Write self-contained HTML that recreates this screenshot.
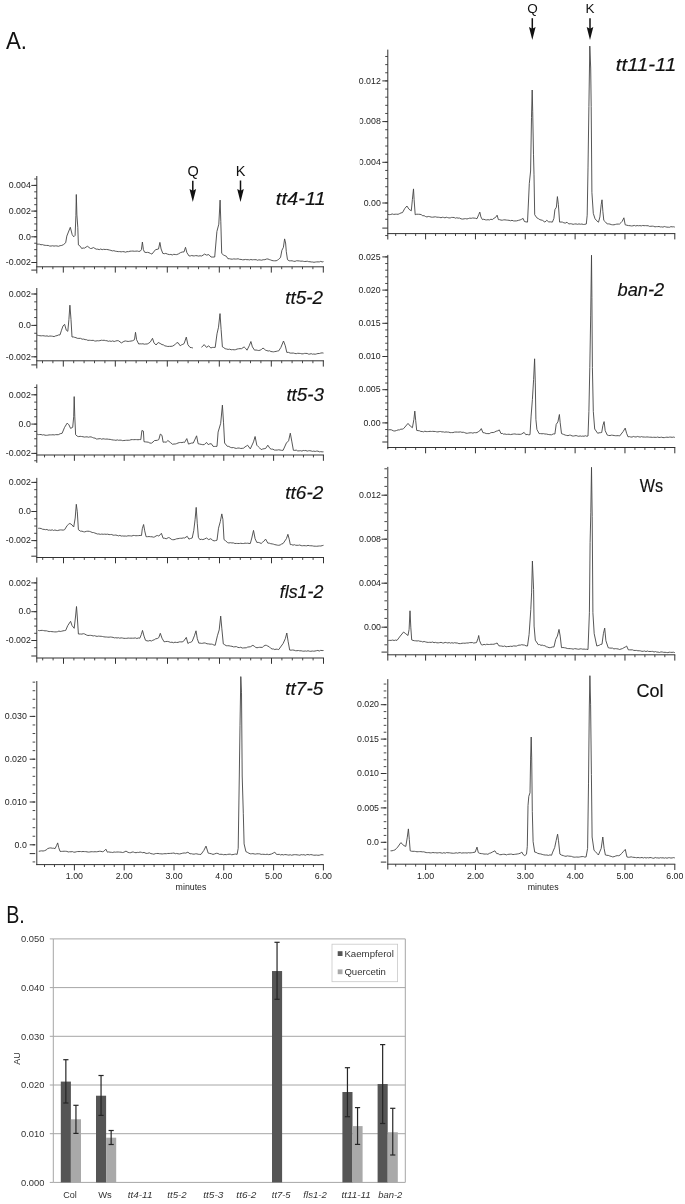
<!DOCTYPE html>
<html><head><meta charset="utf-8"><title>Figure</title>
<style>
html,body{margin:0;padding:0;background:#fff;}
body{width:685px;height:1204px;overflow:hidden;font-family:"Liberation Sans",sans-serif;}
svg{display:block;will-change:transform;}
</style></head><body>
<svg width="685" height="1204" viewBox="0 0 685 1204" font-family="Liberation Sans, sans-serif">
<rect width="685" height="1204" fill="#fff"/>
<text x="6" y="49.2" font-size="24" text-anchor="start" fill="#111" textLength="21" lengthAdjust="spacingAndGlyphs">A.</text>
<line x1="36.8" y1="176" x2="36.8" y2="273.4" stroke="#333" stroke-width="1.0"/>
<line x1="31.3" y1="270.1" x2="36.8" y2="270.1" stroke="#333" stroke-width="1.0"/>
<line x1="34.2" y1="185.4" x2="36.8" y2="185.4" stroke="#333" stroke-width="0.9"/>
<line x1="34.2" y1="178.97" x2="36.8" y2="178.97" stroke="#333" stroke-width="0.9"/>
<line x1="34.2" y1="191.83" x2="36.8" y2="191.83" stroke="#333" stroke-width="0.9"/>
<line x1="34.2" y1="198.25" x2="36.8" y2="198.25" stroke="#333" stroke-width="0.9"/>
<line x1="34.2" y1="204.68" x2="36.8" y2="204.68" stroke="#333" stroke-width="0.9"/>
<line x1="34.2" y1="211.1" x2="36.8" y2="211.1" stroke="#333" stroke-width="0.9"/>
<line x1="34.2" y1="217.53" x2="36.8" y2="217.53" stroke="#333" stroke-width="0.9"/>
<line x1="34.2" y1="223.95" x2="36.8" y2="223.95" stroke="#333" stroke-width="0.9"/>
<line x1="34.2" y1="230.38" x2="36.8" y2="230.38" stroke="#333" stroke-width="0.9"/>
<line x1="34.2" y1="236.8" x2="36.8" y2="236.8" stroke="#333" stroke-width="0.9"/>
<line x1="34.2" y1="243.22" x2="36.8" y2="243.22" stroke="#333" stroke-width="0.9"/>
<line x1="34.2" y1="249.65" x2="36.8" y2="249.65" stroke="#333" stroke-width="0.9"/>
<line x1="34.2" y1="256.07" x2="36.8" y2="256.07" stroke="#333" stroke-width="0.9"/>
<line x1="34.2" y1="262.5" x2="36.8" y2="262.5" stroke="#333" stroke-width="0.9"/>
<line x1="31.3" y1="185.4" x2="36.8" y2="185.4" stroke="#333" stroke-width="1.0"/>
<text x="30.8" y="188.1" font-size="8.8" text-anchor="end" fill="#222" >0.004</text>
<line x1="31.3" y1="211.1" x2="36.8" y2="211.1" stroke="#333" stroke-width="1.0"/>
<text x="30.8" y="213.8" font-size="8.8" text-anchor="end" fill="#222" >0.002</text>
<line x1="31.3" y1="236.8" x2="36.8" y2="236.8" stroke="#333" stroke-width="1.0"/>
<text x="30.8" y="239.5" font-size="8.8" text-anchor="end" fill="#222" >0.0</text>
<line x1="31.3" y1="262.5" x2="36.8" y2="262.5" stroke="#333" stroke-width="1.0"/>
<text x="30.8" y="265.2" font-size="8.8" text-anchor="end" fill="#222" >-0.002</text>
<line x1="36.3" y1="266.8" x2="324" y2="266.8" stroke="#333" stroke-width="1.0"/>
<line x1="63.3" y1="266.8" x2="63.3" y2="272.6" stroke="#333" stroke-width="1.0"/>
<line x1="52.9" y1="266.8" x2="52.9" y2="269.2" stroke="#333" stroke-width="0.9"/>
<line x1="42.5" y1="266.8" x2="42.5" y2="269.2" stroke="#333" stroke-width="0.9"/>
<line x1="73.7" y1="266.8" x2="73.7" y2="269.2" stroke="#333" stroke-width="0.9"/>
<line x1="84.1" y1="266.8" x2="84.1" y2="269.2" stroke="#333" stroke-width="0.9"/>
<line x1="94.5" y1="266.8" x2="94.5" y2="269.2" stroke="#333" stroke-width="0.9"/>
<line x1="104.9" y1="266.8" x2="104.9" y2="269.2" stroke="#333" stroke-width="0.9"/>
<line x1="115.3" y1="266.8" x2="115.3" y2="272.6" stroke="#333" stroke-width="1.0"/>
<line x1="125.7" y1="266.8" x2="125.7" y2="269.2" stroke="#333" stroke-width="0.9"/>
<line x1="136.1" y1="266.8" x2="136.1" y2="269.2" stroke="#333" stroke-width="0.9"/>
<line x1="146.5" y1="266.8" x2="146.5" y2="269.2" stroke="#333" stroke-width="0.9"/>
<line x1="156.9" y1="266.8" x2="156.9" y2="269.2" stroke="#333" stroke-width="0.9"/>
<line x1="167.3" y1="266.8" x2="167.3" y2="272.6" stroke="#333" stroke-width="1.0"/>
<line x1="177.7" y1="266.8" x2="177.7" y2="269.2" stroke="#333" stroke-width="0.9"/>
<line x1="188.1" y1="266.8" x2="188.1" y2="269.2" stroke="#333" stroke-width="0.9"/>
<line x1="198.5" y1="266.8" x2="198.5" y2="269.2" stroke="#333" stroke-width="0.9"/>
<line x1="208.9" y1="266.8" x2="208.9" y2="269.2" stroke="#333" stroke-width="0.9"/>
<line x1="219.3" y1="266.8" x2="219.3" y2="272.6" stroke="#333" stroke-width="1.0"/>
<line x1="229.7" y1="266.8" x2="229.7" y2="269.2" stroke="#333" stroke-width="0.9"/>
<line x1="240.1" y1="266.8" x2="240.1" y2="269.2" stroke="#333" stroke-width="0.9"/>
<line x1="250.5" y1="266.8" x2="250.5" y2="269.2" stroke="#333" stroke-width="0.9"/>
<line x1="260.9" y1="266.8" x2="260.9" y2="269.2" stroke="#333" stroke-width="0.9"/>
<line x1="271.3" y1="266.8" x2="271.3" y2="272.6" stroke="#333" stroke-width="1.0"/>
<line x1="281.7" y1="266.8" x2="281.7" y2="269.2" stroke="#333" stroke-width="0.9"/>
<line x1="292.1" y1="266.8" x2="292.1" y2="269.2" stroke="#333" stroke-width="0.9"/>
<line x1="302.5" y1="266.8" x2="302.5" y2="269.2" stroke="#333" stroke-width="0.9"/>
<line x1="312.9" y1="266.8" x2="312.9" y2="269.2" stroke="#333" stroke-width="0.9"/>
<line x1="323.3" y1="266.8" x2="323.3" y2="272.6" stroke="#333" stroke-width="1.0"/>
<line x1="36.8" y1="288" x2="36.8" y2="368.4" stroke="#333" stroke-width="1.0"/>
<line x1="31.3" y1="364.9" x2="36.8" y2="364.9" stroke="#333" stroke-width="1.0"/>
<line x1="34.2" y1="294" x2="36.8" y2="294" stroke="#333" stroke-width="0.9"/>
<line x1="34.2" y1="301.85" x2="36.8" y2="301.85" stroke="#333" stroke-width="0.9"/>
<line x1="34.2" y1="309.7" x2="36.8" y2="309.7" stroke="#333" stroke-width="0.9"/>
<line x1="34.2" y1="317.55" x2="36.8" y2="317.55" stroke="#333" stroke-width="0.9"/>
<line x1="34.2" y1="325.4" x2="36.8" y2="325.4" stroke="#333" stroke-width="0.9"/>
<line x1="34.2" y1="333.25" x2="36.8" y2="333.25" stroke="#333" stroke-width="0.9"/>
<line x1="34.2" y1="341.1" x2="36.8" y2="341.1" stroke="#333" stroke-width="0.9"/>
<line x1="34.2" y1="348.95" x2="36.8" y2="348.95" stroke="#333" stroke-width="0.9"/>
<line x1="34.2" y1="356.8" x2="36.8" y2="356.8" stroke="#333" stroke-width="0.9"/>
<line x1="31.3" y1="294" x2="36.8" y2="294" stroke="#333" stroke-width="1.0"/>
<text x="30.8" y="296.7" font-size="8.8" text-anchor="end" fill="#222" >0.002</text>
<line x1="31.3" y1="325.4" x2="36.8" y2="325.4" stroke="#333" stroke-width="1.0"/>
<text x="30.8" y="328.1" font-size="8.8" text-anchor="end" fill="#222" >0.0</text>
<line x1="31.3" y1="356.8" x2="36.8" y2="356.8" stroke="#333" stroke-width="1.0"/>
<text x="30.8" y="359.5" font-size="8.8" text-anchor="end" fill="#222" >-0.002</text>
<line x1="36.3" y1="360.8" x2="324" y2="360.8" stroke="#333" stroke-width="1.0"/>
<line x1="63.3" y1="360.8" x2="63.3" y2="366.6" stroke="#333" stroke-width="1.0"/>
<line x1="52.9" y1="360.8" x2="52.9" y2="363.2" stroke="#333" stroke-width="0.9"/>
<line x1="42.5" y1="360.8" x2="42.5" y2="363.2" stroke="#333" stroke-width="0.9"/>
<line x1="73.7" y1="360.8" x2="73.7" y2="363.2" stroke="#333" stroke-width="0.9"/>
<line x1="84.1" y1="360.8" x2="84.1" y2="363.2" stroke="#333" stroke-width="0.9"/>
<line x1="94.5" y1="360.8" x2="94.5" y2="363.2" stroke="#333" stroke-width="0.9"/>
<line x1="104.9" y1="360.8" x2="104.9" y2="363.2" stroke="#333" stroke-width="0.9"/>
<line x1="115.3" y1="360.8" x2="115.3" y2="366.6" stroke="#333" stroke-width="1.0"/>
<line x1="125.7" y1="360.8" x2="125.7" y2="363.2" stroke="#333" stroke-width="0.9"/>
<line x1="136.1" y1="360.8" x2="136.1" y2="363.2" stroke="#333" stroke-width="0.9"/>
<line x1="146.5" y1="360.8" x2="146.5" y2="363.2" stroke="#333" stroke-width="0.9"/>
<line x1="156.9" y1="360.8" x2="156.9" y2="363.2" stroke="#333" stroke-width="0.9"/>
<line x1="167.3" y1="360.8" x2="167.3" y2="366.6" stroke="#333" stroke-width="1.0"/>
<line x1="177.7" y1="360.8" x2="177.7" y2="363.2" stroke="#333" stroke-width="0.9"/>
<line x1="188.1" y1="360.8" x2="188.1" y2="363.2" stroke="#333" stroke-width="0.9"/>
<line x1="198.5" y1="360.8" x2="198.5" y2="363.2" stroke="#333" stroke-width="0.9"/>
<line x1="208.9" y1="360.8" x2="208.9" y2="363.2" stroke="#333" stroke-width="0.9"/>
<line x1="219.3" y1="360.8" x2="219.3" y2="366.6" stroke="#333" stroke-width="1.0"/>
<line x1="229.7" y1="360.8" x2="229.7" y2="363.2" stroke="#333" stroke-width="0.9"/>
<line x1="240.1" y1="360.8" x2="240.1" y2="363.2" stroke="#333" stroke-width="0.9"/>
<line x1="250.5" y1="360.8" x2="250.5" y2="363.2" stroke="#333" stroke-width="0.9"/>
<line x1="260.9" y1="360.8" x2="260.9" y2="363.2" stroke="#333" stroke-width="0.9"/>
<line x1="271.3" y1="360.8" x2="271.3" y2="366.6" stroke="#333" stroke-width="1.0"/>
<line x1="281.7" y1="360.8" x2="281.7" y2="363.2" stroke="#333" stroke-width="0.9"/>
<line x1="292.1" y1="360.8" x2="292.1" y2="363.2" stroke="#333" stroke-width="0.9"/>
<line x1="302.5" y1="360.8" x2="302.5" y2="363.2" stroke="#333" stroke-width="0.9"/>
<line x1="312.9" y1="360.8" x2="312.9" y2="363.2" stroke="#333" stroke-width="0.9"/>
<line x1="323.3" y1="360.8" x2="323.3" y2="366.6" stroke="#333" stroke-width="1.0"/>
<line x1="36.8" y1="384.4" x2="36.8" y2="462.8" stroke="#333" stroke-width="1.0"/>
<line x1="34.2" y1="394.8" x2="36.8" y2="394.8" stroke="#333" stroke-width="0.9"/>
<line x1="34.2" y1="387.48" x2="36.8" y2="387.48" stroke="#333" stroke-width="0.9"/>
<line x1="34.2" y1="402.12" x2="36.8" y2="402.12" stroke="#333" stroke-width="0.9"/>
<line x1="34.2" y1="409.45" x2="36.8" y2="409.45" stroke="#333" stroke-width="0.9"/>
<line x1="34.2" y1="416.78" x2="36.8" y2="416.78" stroke="#333" stroke-width="0.9"/>
<line x1="34.2" y1="424.1" x2="36.8" y2="424.1" stroke="#333" stroke-width="0.9"/>
<line x1="34.2" y1="431.43" x2="36.8" y2="431.43" stroke="#333" stroke-width="0.9"/>
<line x1="34.2" y1="438.75" x2="36.8" y2="438.75" stroke="#333" stroke-width="0.9"/>
<line x1="34.2" y1="446.07" x2="36.8" y2="446.07" stroke="#333" stroke-width="0.9"/>
<line x1="34.2" y1="453.4" x2="36.8" y2="453.4" stroke="#333" stroke-width="0.9"/>
<line x1="34.2" y1="460.73" x2="36.8" y2="460.73" stroke="#333" stroke-width="0.9"/>
<line x1="31.3" y1="394.8" x2="36.8" y2="394.8" stroke="#333" stroke-width="1.0"/>
<text x="30.8" y="397.5" font-size="8.8" text-anchor="end" fill="#222" >0.002</text>
<line x1="31.3" y1="424.1" x2="36.8" y2="424.1" stroke="#333" stroke-width="1.0"/>
<text x="30.8" y="426.8" font-size="8.8" text-anchor="end" fill="#222" >0.0</text>
<line x1="31.3" y1="453.4" x2="36.8" y2="453.4" stroke="#333" stroke-width="1.0"/>
<text x="30.8" y="456.1" font-size="8.8" text-anchor="end" fill="#222" >-0.002</text>
<line x1="36.3" y1="455" x2="324" y2="455" stroke="#333" stroke-width="1.0"/>
<line x1="74.4" y1="455" x2="74.4" y2="460.8" stroke="#333" stroke-width="1.0"/>
<line x1="64.44" y1="455" x2="64.44" y2="457.4" stroke="#333" stroke-width="0.9"/>
<line x1="54.48" y1="455" x2="54.48" y2="457.4" stroke="#333" stroke-width="0.9"/>
<line x1="44.52" y1="455" x2="44.52" y2="457.4" stroke="#333" stroke-width="0.9"/>
<line x1="84.36" y1="455" x2="84.36" y2="457.4" stroke="#333" stroke-width="0.9"/>
<line x1="94.32" y1="455" x2="94.32" y2="457.4" stroke="#333" stroke-width="0.9"/>
<line x1="104.28" y1="455" x2="104.28" y2="457.4" stroke="#333" stroke-width="0.9"/>
<line x1="114.24" y1="455" x2="114.24" y2="457.4" stroke="#333" stroke-width="0.9"/>
<line x1="124.2" y1="455" x2="124.2" y2="460.8" stroke="#333" stroke-width="1.0"/>
<line x1="134.16" y1="455" x2="134.16" y2="457.4" stroke="#333" stroke-width="0.9"/>
<line x1="144.12" y1="455" x2="144.12" y2="457.4" stroke="#333" stroke-width="0.9"/>
<line x1="154.08" y1="455" x2="154.08" y2="457.4" stroke="#333" stroke-width="0.9"/>
<line x1="164.04" y1="455" x2="164.04" y2="457.4" stroke="#333" stroke-width="0.9"/>
<line x1="174" y1="455" x2="174" y2="460.8" stroke="#333" stroke-width="1.0"/>
<line x1="183.96" y1="455" x2="183.96" y2="457.4" stroke="#333" stroke-width="0.9"/>
<line x1="193.92" y1="455" x2="193.92" y2="457.4" stroke="#333" stroke-width="0.9"/>
<line x1="203.88" y1="455" x2="203.88" y2="457.4" stroke="#333" stroke-width="0.9"/>
<line x1="213.84" y1="455" x2="213.84" y2="457.4" stroke="#333" stroke-width="0.9"/>
<line x1="223.8" y1="455" x2="223.8" y2="460.8" stroke="#333" stroke-width="1.0"/>
<line x1="233.76" y1="455" x2="233.76" y2="457.4" stroke="#333" stroke-width="0.9"/>
<line x1="243.72" y1="455" x2="243.72" y2="457.4" stroke="#333" stroke-width="0.9"/>
<line x1="253.68" y1="455" x2="253.68" y2="457.4" stroke="#333" stroke-width="0.9"/>
<line x1="263.64" y1="455" x2="263.64" y2="457.4" stroke="#333" stroke-width="0.9"/>
<line x1="273.6" y1="455" x2="273.6" y2="460.8" stroke="#333" stroke-width="1.0"/>
<line x1="283.56" y1="455" x2="283.56" y2="457.4" stroke="#333" stroke-width="0.9"/>
<line x1="293.52" y1="455" x2="293.52" y2="457.4" stroke="#333" stroke-width="0.9"/>
<line x1="303.48" y1="455" x2="303.48" y2="457.4" stroke="#333" stroke-width="0.9"/>
<line x1="313.44" y1="455" x2="313.44" y2="457.4" stroke="#333" stroke-width="0.9"/>
<line x1="323.4" y1="455" x2="323.4" y2="460.8" stroke="#333" stroke-width="1.0"/>
<line x1="36.8" y1="477.9" x2="36.8" y2="562.8" stroke="#333" stroke-width="1.0"/>
<line x1="31.3" y1="556.2" x2="36.8" y2="556.2" stroke="#333" stroke-width="1.0"/>
<line x1="34.2" y1="482.4" x2="36.8" y2="482.4" stroke="#333" stroke-width="0.9"/>
<line x1="34.2" y1="489.67" x2="36.8" y2="489.67" stroke="#333" stroke-width="0.9"/>
<line x1="34.2" y1="496.95" x2="36.8" y2="496.95" stroke="#333" stroke-width="0.9"/>
<line x1="34.2" y1="504.22" x2="36.8" y2="504.22" stroke="#333" stroke-width="0.9"/>
<line x1="34.2" y1="511.5" x2="36.8" y2="511.5" stroke="#333" stroke-width="0.9"/>
<line x1="34.2" y1="518.77" x2="36.8" y2="518.77" stroke="#333" stroke-width="0.9"/>
<line x1="34.2" y1="526.05" x2="36.8" y2="526.05" stroke="#333" stroke-width="0.9"/>
<line x1="34.2" y1="533.32" x2="36.8" y2="533.32" stroke="#333" stroke-width="0.9"/>
<line x1="34.2" y1="540.6" x2="36.8" y2="540.6" stroke="#333" stroke-width="0.9"/>
<line x1="34.2" y1="547.88" x2="36.8" y2="547.88" stroke="#333" stroke-width="0.9"/>
<line x1="31.3" y1="482.4" x2="36.8" y2="482.4" stroke="#333" stroke-width="1.0"/>
<text x="30.8" y="485.1" font-size="8.8" text-anchor="end" fill="#222" >0.002</text>
<line x1="31.3" y1="511.5" x2="36.8" y2="511.5" stroke="#333" stroke-width="1.0"/>
<text x="30.8" y="514.2" font-size="8.8" text-anchor="end" fill="#222" >0.0</text>
<line x1="31.3" y1="540.6" x2="36.8" y2="540.6" stroke="#333" stroke-width="1.0"/>
<text x="30.8" y="543.3" font-size="8.8" text-anchor="end" fill="#222" >-0.002</text>
<line x1="36.3" y1="557.5" x2="324" y2="557.5" stroke="#333" stroke-width="1.0"/>
<line x1="63.5" y1="557.5" x2="63.5" y2="563.3" stroke="#333" stroke-width="1.0"/>
<line x1="53.1" y1="557.5" x2="53.1" y2="559.9" stroke="#333" stroke-width="0.9"/>
<line x1="42.7" y1="557.5" x2="42.7" y2="559.9" stroke="#333" stroke-width="0.9"/>
<line x1="73.9" y1="557.5" x2="73.9" y2="559.9" stroke="#333" stroke-width="0.9"/>
<line x1="84.3" y1="557.5" x2="84.3" y2="559.9" stroke="#333" stroke-width="0.9"/>
<line x1="94.7" y1="557.5" x2="94.7" y2="559.9" stroke="#333" stroke-width="0.9"/>
<line x1="105.1" y1="557.5" x2="105.1" y2="559.9" stroke="#333" stroke-width="0.9"/>
<line x1="115.5" y1="557.5" x2="115.5" y2="563.3" stroke="#333" stroke-width="1.0"/>
<line x1="125.9" y1="557.5" x2="125.9" y2="559.9" stroke="#333" stroke-width="0.9"/>
<line x1="136.3" y1="557.5" x2="136.3" y2="559.9" stroke="#333" stroke-width="0.9"/>
<line x1="146.7" y1="557.5" x2="146.7" y2="559.9" stroke="#333" stroke-width="0.9"/>
<line x1="157.1" y1="557.5" x2="157.1" y2="559.9" stroke="#333" stroke-width="0.9"/>
<line x1="167.5" y1="557.5" x2="167.5" y2="563.3" stroke="#333" stroke-width="1.0"/>
<line x1="177.9" y1="557.5" x2="177.9" y2="559.9" stroke="#333" stroke-width="0.9"/>
<line x1="188.3" y1="557.5" x2="188.3" y2="559.9" stroke="#333" stroke-width="0.9"/>
<line x1="198.7" y1="557.5" x2="198.7" y2="559.9" stroke="#333" stroke-width="0.9"/>
<line x1="209.1" y1="557.5" x2="209.1" y2="559.9" stroke="#333" stroke-width="0.9"/>
<line x1="219.5" y1="557.5" x2="219.5" y2="563.3" stroke="#333" stroke-width="1.0"/>
<line x1="229.9" y1="557.5" x2="229.9" y2="559.9" stroke="#333" stroke-width="0.9"/>
<line x1="240.3" y1="557.5" x2="240.3" y2="559.9" stroke="#333" stroke-width="0.9"/>
<line x1="250.7" y1="557.5" x2="250.7" y2="559.9" stroke="#333" stroke-width="0.9"/>
<line x1="261.1" y1="557.5" x2="261.1" y2="559.9" stroke="#333" stroke-width="0.9"/>
<line x1="271.5" y1="557.5" x2="271.5" y2="563.3" stroke="#333" stroke-width="1.0"/>
<line x1="281.9" y1="557.5" x2="281.9" y2="559.9" stroke="#333" stroke-width="0.9"/>
<line x1="292.3" y1="557.5" x2="292.3" y2="559.9" stroke="#333" stroke-width="0.9"/>
<line x1="302.7" y1="557.5" x2="302.7" y2="559.9" stroke="#333" stroke-width="0.9"/>
<line x1="313.1" y1="557.5" x2="313.1" y2="559.9" stroke="#333" stroke-width="0.9"/>
<line x1="323.5" y1="557.5" x2="323.5" y2="563.3" stroke="#333" stroke-width="1.0"/>
<line x1="36.8" y1="577.4" x2="36.8" y2="662.5" stroke="#333" stroke-width="1.0"/>
<line x1="31.3" y1="656" x2="36.8" y2="656" stroke="#333" stroke-width="1.0"/>
<line x1="34.2" y1="582.9" x2="36.8" y2="582.9" stroke="#333" stroke-width="0.9"/>
<line x1="34.2" y1="590.1" x2="36.8" y2="590.1" stroke="#333" stroke-width="0.9"/>
<line x1="34.2" y1="597.3" x2="36.8" y2="597.3" stroke="#333" stroke-width="0.9"/>
<line x1="34.2" y1="604.5" x2="36.8" y2="604.5" stroke="#333" stroke-width="0.9"/>
<line x1="34.2" y1="611.7" x2="36.8" y2="611.7" stroke="#333" stroke-width="0.9"/>
<line x1="34.2" y1="618.9" x2="36.8" y2="618.9" stroke="#333" stroke-width="0.9"/>
<line x1="34.2" y1="626.1" x2="36.8" y2="626.1" stroke="#333" stroke-width="0.9"/>
<line x1="34.2" y1="633.3" x2="36.8" y2="633.3" stroke="#333" stroke-width="0.9"/>
<line x1="34.2" y1="640.5" x2="36.8" y2="640.5" stroke="#333" stroke-width="0.9"/>
<line x1="34.2" y1="647.7" x2="36.8" y2="647.7" stroke="#333" stroke-width="0.9"/>
<line x1="31.3" y1="582.9" x2="36.8" y2="582.9" stroke="#333" stroke-width="1.0"/>
<text x="30.8" y="585.6" font-size="8.8" text-anchor="end" fill="#222" >0.002</text>
<line x1="31.3" y1="611.7" x2="36.8" y2="611.7" stroke="#333" stroke-width="1.0"/>
<text x="30.8" y="614.4" font-size="8.8" text-anchor="end" fill="#222" >0.0</text>
<line x1="31.3" y1="640.5" x2="36.8" y2="640.5" stroke="#333" stroke-width="1.0"/>
<text x="30.8" y="643.2" font-size="8.8" text-anchor="end" fill="#222" >-0.002</text>
<line x1="36.3" y1="658" x2="324" y2="658" stroke="#333" stroke-width="1.0"/>
<line x1="63.5" y1="658" x2="63.5" y2="663.8" stroke="#333" stroke-width="1.0"/>
<line x1="53.1" y1="658" x2="53.1" y2="660.4" stroke="#333" stroke-width="0.9"/>
<line x1="42.7" y1="658" x2="42.7" y2="660.4" stroke="#333" stroke-width="0.9"/>
<line x1="73.9" y1="658" x2="73.9" y2="660.4" stroke="#333" stroke-width="0.9"/>
<line x1="84.3" y1="658" x2="84.3" y2="660.4" stroke="#333" stroke-width="0.9"/>
<line x1="94.7" y1="658" x2="94.7" y2="660.4" stroke="#333" stroke-width="0.9"/>
<line x1="105.1" y1="658" x2="105.1" y2="660.4" stroke="#333" stroke-width="0.9"/>
<line x1="115.5" y1="658" x2="115.5" y2="663.8" stroke="#333" stroke-width="1.0"/>
<line x1="125.9" y1="658" x2="125.9" y2="660.4" stroke="#333" stroke-width="0.9"/>
<line x1="136.3" y1="658" x2="136.3" y2="660.4" stroke="#333" stroke-width="0.9"/>
<line x1="146.7" y1="658" x2="146.7" y2="660.4" stroke="#333" stroke-width="0.9"/>
<line x1="157.1" y1="658" x2="157.1" y2="660.4" stroke="#333" stroke-width="0.9"/>
<line x1="167.5" y1="658" x2="167.5" y2="663.8" stroke="#333" stroke-width="1.0"/>
<line x1="177.9" y1="658" x2="177.9" y2="660.4" stroke="#333" stroke-width="0.9"/>
<line x1="188.3" y1="658" x2="188.3" y2="660.4" stroke="#333" stroke-width="0.9"/>
<line x1="198.7" y1="658" x2="198.7" y2="660.4" stroke="#333" stroke-width="0.9"/>
<line x1="209.1" y1="658" x2="209.1" y2="660.4" stroke="#333" stroke-width="0.9"/>
<line x1="219.5" y1="658" x2="219.5" y2="663.8" stroke="#333" stroke-width="1.0"/>
<line x1="229.9" y1="658" x2="229.9" y2="660.4" stroke="#333" stroke-width="0.9"/>
<line x1="240.3" y1="658" x2="240.3" y2="660.4" stroke="#333" stroke-width="0.9"/>
<line x1="250.7" y1="658" x2="250.7" y2="660.4" stroke="#333" stroke-width="0.9"/>
<line x1="261.1" y1="658" x2="261.1" y2="660.4" stroke="#333" stroke-width="0.9"/>
<line x1="271.5" y1="658" x2="271.5" y2="663.8" stroke="#333" stroke-width="1.0"/>
<line x1="281.9" y1="658" x2="281.9" y2="660.4" stroke="#333" stroke-width="0.9"/>
<line x1="292.3" y1="658" x2="292.3" y2="660.4" stroke="#333" stroke-width="0.9"/>
<line x1="302.7" y1="658" x2="302.7" y2="660.4" stroke="#333" stroke-width="0.9"/>
<line x1="313.1" y1="658" x2="313.1" y2="660.4" stroke="#333" stroke-width="0.9"/>
<line x1="323.5" y1="658" x2="323.5" y2="663.8" stroke="#333" stroke-width="1.0"/>
<line x1="36.8" y1="681" x2="36.8" y2="865.1" stroke="#333" stroke-width="1.0"/>
<line x1="29.7" y1="853.6" x2="35.2" y2="853.6" stroke="#333" stroke-width="1.0"/>
<line x1="32.6" y1="716.4" x2="35.2" y2="716.4" stroke="#333" stroke-width="0.9"/>
<line x1="32.6" y1="707.84" x2="35.2" y2="707.84" stroke="#333" stroke-width="0.9"/>
<line x1="32.6" y1="699.28" x2="35.2" y2="699.28" stroke="#333" stroke-width="0.9"/>
<line x1="32.6" y1="690.72" x2="35.2" y2="690.72" stroke="#333" stroke-width="0.9"/>
<line x1="32.6" y1="682.16" x2="35.2" y2="682.16" stroke="#333" stroke-width="0.9"/>
<line x1="32.6" y1="724.96" x2="35.2" y2="724.96" stroke="#333" stroke-width="0.9"/>
<line x1="32.6" y1="733.52" x2="35.2" y2="733.52" stroke="#333" stroke-width="0.9"/>
<line x1="32.6" y1="742.08" x2="35.2" y2="742.08" stroke="#333" stroke-width="0.9"/>
<line x1="32.6" y1="750.64" x2="35.2" y2="750.64" stroke="#333" stroke-width="0.9"/>
<line x1="32.6" y1="759.2" x2="35.2" y2="759.2" stroke="#333" stroke-width="0.9"/>
<line x1="32.6" y1="767.76" x2="35.2" y2="767.76" stroke="#333" stroke-width="0.9"/>
<line x1="32.6" y1="776.32" x2="35.2" y2="776.32" stroke="#333" stroke-width="0.9"/>
<line x1="32.6" y1="784.88" x2="35.2" y2="784.88" stroke="#333" stroke-width="0.9"/>
<line x1="32.6" y1="793.44" x2="35.2" y2="793.44" stroke="#333" stroke-width="0.9"/>
<line x1="32.6" y1="802" x2="35.2" y2="802" stroke="#333" stroke-width="0.9"/>
<line x1="32.6" y1="810.56" x2="35.2" y2="810.56" stroke="#333" stroke-width="0.9"/>
<line x1="32.6" y1="819.12" x2="35.2" y2="819.12" stroke="#333" stroke-width="0.9"/>
<line x1="32.6" y1="827.68" x2="35.2" y2="827.68" stroke="#333" stroke-width="0.9"/>
<line x1="32.6" y1="836.24" x2="35.2" y2="836.24" stroke="#333" stroke-width="0.9"/>
<line x1="32.6" y1="844.8" x2="35.2" y2="844.8" stroke="#333" stroke-width="0.9"/>
<line x1="32.6" y1="861.92" x2="35.2" y2="861.92" stroke="#333" stroke-width="0.9"/>
<line x1="29.7" y1="716.4" x2="35.2" y2="716.4" stroke="#333" stroke-width="1.0"/>
<text x="26.8" y="719.1" font-size="8.8" text-anchor="end" fill="#222" >0.030</text>
<line x1="29.7" y1="759.2" x2="35.2" y2="759.2" stroke="#333" stroke-width="1.0"/>
<text x="26.8" y="761.9" font-size="8.8" text-anchor="end" fill="#222" >0.020</text>
<line x1="29.7" y1="802" x2="35.2" y2="802" stroke="#333" stroke-width="1.0"/>
<text x="26.8" y="804.7" font-size="8.8" text-anchor="end" fill="#222" >0.010</text>
<line x1="29.7" y1="844.8" x2="35.2" y2="844.8" stroke="#333" stroke-width="1.0"/>
<text x="26.8" y="847.5" font-size="8.8" text-anchor="end" fill="#222" >0.0</text>
<line x1="36.3" y1="864.6" x2="324" y2="864.6" stroke="#333" stroke-width="1.0"/>
<line x1="74.4" y1="864.6" x2="74.4" y2="870.4" stroke="#333" stroke-width="1.0"/>
<line x1="64.44" y1="864.6" x2="64.44" y2="867" stroke="#333" stroke-width="0.9"/>
<line x1="54.48" y1="864.6" x2="54.48" y2="867" stroke="#333" stroke-width="0.9"/>
<line x1="44.52" y1="864.6" x2="44.52" y2="867" stroke="#333" stroke-width="0.9"/>
<line x1="84.36" y1="864.6" x2="84.36" y2="867" stroke="#333" stroke-width="0.9"/>
<line x1="94.32" y1="864.6" x2="94.32" y2="867" stroke="#333" stroke-width="0.9"/>
<line x1="104.28" y1="864.6" x2="104.28" y2="867" stroke="#333" stroke-width="0.9"/>
<line x1="114.24" y1="864.6" x2="114.24" y2="867" stroke="#333" stroke-width="0.9"/>
<line x1="124.2" y1="864.6" x2="124.2" y2="870.4" stroke="#333" stroke-width="1.0"/>
<line x1="134.16" y1="864.6" x2="134.16" y2="867" stroke="#333" stroke-width="0.9"/>
<line x1="144.12" y1="864.6" x2="144.12" y2="867" stroke="#333" stroke-width="0.9"/>
<line x1="154.08" y1="864.6" x2="154.08" y2="867" stroke="#333" stroke-width="0.9"/>
<line x1="164.04" y1="864.6" x2="164.04" y2="867" stroke="#333" stroke-width="0.9"/>
<line x1="174" y1="864.6" x2="174" y2="870.4" stroke="#333" stroke-width="1.0"/>
<line x1="183.96" y1="864.6" x2="183.96" y2="867" stroke="#333" stroke-width="0.9"/>
<line x1="193.92" y1="864.6" x2="193.92" y2="867" stroke="#333" stroke-width="0.9"/>
<line x1="203.88" y1="864.6" x2="203.88" y2="867" stroke="#333" stroke-width="0.9"/>
<line x1="213.84" y1="864.6" x2="213.84" y2="867" stroke="#333" stroke-width="0.9"/>
<line x1="223.8" y1="864.6" x2="223.8" y2="870.4" stroke="#333" stroke-width="1.0"/>
<line x1="233.76" y1="864.6" x2="233.76" y2="867" stroke="#333" stroke-width="0.9"/>
<line x1="243.72" y1="864.6" x2="243.72" y2="867" stroke="#333" stroke-width="0.9"/>
<line x1="253.68" y1="864.6" x2="253.68" y2="867" stroke="#333" stroke-width="0.9"/>
<line x1="263.64" y1="864.6" x2="263.64" y2="867" stroke="#333" stroke-width="0.9"/>
<line x1="273.6" y1="864.6" x2="273.6" y2="870.4" stroke="#333" stroke-width="1.0"/>
<line x1="283.56" y1="864.6" x2="283.56" y2="867" stroke="#333" stroke-width="0.9"/>
<line x1="293.52" y1="864.6" x2="293.52" y2="867" stroke="#333" stroke-width="0.9"/>
<line x1="303.48" y1="864.6" x2="303.48" y2="867" stroke="#333" stroke-width="0.9"/>
<line x1="313.44" y1="864.6" x2="313.44" y2="867" stroke="#333" stroke-width="0.9"/>
<line x1="323.4" y1="864.6" x2="323.4" y2="870.4" stroke="#333" stroke-width="1.0"/>
<text x="74.4" y="879" font-size="8.8" text-anchor="middle" fill="#222" >1.00</text>
<text x="124.2" y="879" font-size="8.8" text-anchor="middle" fill="#222" >2.00</text>
<text x="174" y="879" font-size="8.8" text-anchor="middle" fill="#222" >3.00</text>
<text x="223.8" y="879" font-size="8.8" text-anchor="middle" fill="#222" >4.00</text>
<text x="273.6" y="879" font-size="8.8" text-anchor="middle" fill="#222" >5.00</text>
<text x="323.4" y="879" font-size="8.8" text-anchor="middle" fill="#222" >6.00</text>
<text x="191" y="889.5" font-size="8.8" text-anchor="middle" fill="#222" >minutes</text>
<line x1="387.8" y1="49.6" x2="387.8" y2="239.5" stroke="#333" stroke-width="1.0"/>
<line x1="382.3" y1="228.1" x2="387.8" y2="228.1" stroke="#333" stroke-width="1.0"/>
<line x1="385.2" y1="80.9" x2="387.8" y2="80.9" stroke="#333" stroke-width="0.9"/>
<line x1="385.2" y1="72.76" x2="387.8" y2="72.76" stroke="#333" stroke-width="0.9"/>
<line x1="385.2" y1="64.62" x2="387.8" y2="64.62" stroke="#333" stroke-width="0.9"/>
<line x1="385.2" y1="56.48" x2="387.8" y2="56.48" stroke="#333" stroke-width="0.9"/>
<line x1="385.2" y1="89.04" x2="387.8" y2="89.04" stroke="#333" stroke-width="0.9"/>
<line x1="385.2" y1="97.18" x2="387.8" y2="97.18" stroke="#333" stroke-width="0.9"/>
<line x1="385.2" y1="105.32" x2="387.8" y2="105.32" stroke="#333" stroke-width="0.9"/>
<line x1="385.2" y1="113.46" x2="387.8" y2="113.46" stroke="#333" stroke-width="0.9"/>
<line x1="385.2" y1="121.6" x2="387.8" y2="121.6" stroke="#333" stroke-width="0.9"/>
<line x1="385.2" y1="129.74" x2="387.8" y2="129.74" stroke="#333" stroke-width="0.9"/>
<line x1="385.2" y1="137.88" x2="387.8" y2="137.88" stroke="#333" stroke-width="0.9"/>
<line x1="385.2" y1="146.02" x2="387.8" y2="146.02" stroke="#333" stroke-width="0.9"/>
<line x1="385.2" y1="154.16" x2="387.8" y2="154.16" stroke="#333" stroke-width="0.9"/>
<line x1="385.2" y1="162.3" x2="387.8" y2="162.3" stroke="#333" stroke-width="0.9"/>
<line x1="385.2" y1="170.44" x2="387.8" y2="170.44" stroke="#333" stroke-width="0.9"/>
<line x1="385.2" y1="178.58" x2="387.8" y2="178.58" stroke="#333" stroke-width="0.9"/>
<line x1="385.2" y1="186.72" x2="387.8" y2="186.72" stroke="#333" stroke-width="0.9"/>
<line x1="385.2" y1="194.86" x2="387.8" y2="194.86" stroke="#333" stroke-width="0.9"/>
<line x1="385.2" y1="203" x2="387.8" y2="203" stroke="#333" stroke-width="0.9"/>
<line x1="385.2" y1="211.14" x2="387.8" y2="211.14" stroke="#333" stroke-width="0.9"/>
<line x1="385.2" y1="219.28" x2="387.8" y2="219.28" stroke="#333" stroke-width="0.9"/>
<line x1="385.2" y1="235.56" x2="387.8" y2="235.56" stroke="#333" stroke-width="0.9"/>
<line x1="382.3" y1="80.9" x2="387.8" y2="80.9" stroke="#333" stroke-width="1.0"/>
<text x="380.8" y="83.6" font-size="8.8" text-anchor="end" fill="#222" >0.012</text>
<line x1="382.3" y1="121.6" x2="387.8" y2="121.6" stroke="#333" stroke-width="1.0"/>
<text x="380.8" y="124.3" font-size="8.8" text-anchor="end" fill="#222" >0.008</text>
<line x1="382.3" y1="162.3" x2="387.8" y2="162.3" stroke="#333" stroke-width="1.0"/>
<text x="380.8" y="165" font-size="8.8" text-anchor="end" fill="#222" >0.004</text>
<line x1="382.3" y1="203" x2="387.8" y2="203" stroke="#333" stroke-width="1.0"/>
<text x="380.8" y="205.7" font-size="8.8" text-anchor="end" fill="#222" >0.00</text>
<line x1="387.3" y1="233.6" x2="675.3" y2="233.6" stroke="#333" stroke-width="1.0"/>
<line x1="425.6" y1="233.6" x2="425.6" y2="239.4" stroke="#333" stroke-width="1.0"/>
<line x1="415.63" y1="233.6" x2="415.63" y2="236" stroke="#333" stroke-width="0.9"/>
<line x1="405.66" y1="233.6" x2="405.66" y2="236" stroke="#333" stroke-width="0.9"/>
<line x1="395.7" y1="233.6" x2="395.7" y2="236" stroke="#333" stroke-width="0.9"/>
<line x1="435.57" y1="233.6" x2="435.57" y2="236" stroke="#333" stroke-width="0.9"/>
<line x1="445.54" y1="233.6" x2="445.54" y2="236" stroke="#333" stroke-width="0.9"/>
<line x1="455.5" y1="233.6" x2="455.5" y2="236" stroke="#333" stroke-width="0.9"/>
<line x1="465.47" y1="233.6" x2="465.47" y2="236" stroke="#333" stroke-width="0.9"/>
<line x1="475.44" y1="233.6" x2="475.44" y2="239.4" stroke="#333" stroke-width="1.0"/>
<line x1="485.41" y1="233.6" x2="485.41" y2="236" stroke="#333" stroke-width="0.9"/>
<line x1="495.38" y1="233.6" x2="495.38" y2="236" stroke="#333" stroke-width="0.9"/>
<line x1="505.34" y1="233.6" x2="505.34" y2="236" stroke="#333" stroke-width="0.9"/>
<line x1="515.31" y1="233.6" x2="515.31" y2="236" stroke="#333" stroke-width="0.9"/>
<line x1="525.28" y1="233.6" x2="525.28" y2="239.4" stroke="#333" stroke-width="1.0"/>
<line x1="535.25" y1="233.6" x2="535.25" y2="236" stroke="#333" stroke-width="0.9"/>
<line x1="545.22" y1="233.6" x2="545.22" y2="236" stroke="#333" stroke-width="0.9"/>
<line x1="555.18" y1="233.6" x2="555.18" y2="236" stroke="#333" stroke-width="0.9"/>
<line x1="565.15" y1="233.6" x2="565.15" y2="236" stroke="#333" stroke-width="0.9"/>
<line x1="575.12" y1="233.6" x2="575.12" y2="239.4" stroke="#333" stroke-width="1.0"/>
<line x1="585.09" y1="233.6" x2="585.09" y2="236" stroke="#333" stroke-width="0.9"/>
<line x1="595.06" y1="233.6" x2="595.06" y2="236" stroke="#333" stroke-width="0.9"/>
<line x1="605.02" y1="233.6" x2="605.02" y2="236" stroke="#333" stroke-width="0.9"/>
<line x1="614.99" y1="233.6" x2="614.99" y2="236" stroke="#333" stroke-width="0.9"/>
<line x1="624.96" y1="233.6" x2="624.96" y2="239.4" stroke="#333" stroke-width="1.0"/>
<line x1="634.93" y1="233.6" x2="634.93" y2="236" stroke="#333" stroke-width="0.9"/>
<line x1="644.9" y1="233.6" x2="644.9" y2="236" stroke="#333" stroke-width="0.9"/>
<line x1="654.86" y1="233.6" x2="654.86" y2="236" stroke="#333" stroke-width="0.9"/>
<line x1="664.83" y1="233.6" x2="664.83" y2="236" stroke="#333" stroke-width="0.9"/>
<line x1="674.8" y1="233.6" x2="674.8" y2="239.4" stroke="#333" stroke-width="1.0"/>
<line x1="387.8" y1="254.9" x2="387.8" y2="449.2" stroke="#333" stroke-width="1.0"/>
<line x1="382.3" y1="442" x2="387.8" y2="442" stroke="#333" stroke-width="1.0"/>
<line x1="385.2" y1="256.9" x2="387.8" y2="256.9" stroke="#333" stroke-width="0.9"/>
<line x1="385.2" y1="263.54" x2="387.8" y2="263.54" stroke="#333" stroke-width="0.9"/>
<line x1="385.2" y1="270.18" x2="387.8" y2="270.18" stroke="#333" stroke-width="0.9"/>
<line x1="385.2" y1="276.82" x2="387.8" y2="276.82" stroke="#333" stroke-width="0.9"/>
<line x1="385.2" y1="283.46" x2="387.8" y2="283.46" stroke="#333" stroke-width="0.9"/>
<line x1="385.2" y1="290.1" x2="387.8" y2="290.1" stroke="#333" stroke-width="0.9"/>
<line x1="385.2" y1="296.74" x2="387.8" y2="296.74" stroke="#333" stroke-width="0.9"/>
<line x1="385.2" y1="303.38" x2="387.8" y2="303.38" stroke="#333" stroke-width="0.9"/>
<line x1="385.2" y1="310.02" x2="387.8" y2="310.02" stroke="#333" stroke-width="0.9"/>
<line x1="385.2" y1="316.66" x2="387.8" y2="316.66" stroke="#333" stroke-width="0.9"/>
<line x1="385.2" y1="323.3" x2="387.8" y2="323.3" stroke="#333" stroke-width="0.9"/>
<line x1="385.2" y1="329.94" x2="387.8" y2="329.94" stroke="#333" stroke-width="0.9"/>
<line x1="385.2" y1="336.58" x2="387.8" y2="336.58" stroke="#333" stroke-width="0.9"/>
<line x1="385.2" y1="343.22" x2="387.8" y2="343.22" stroke="#333" stroke-width="0.9"/>
<line x1="385.2" y1="349.86" x2="387.8" y2="349.86" stroke="#333" stroke-width="0.9"/>
<line x1="385.2" y1="356.5" x2="387.8" y2="356.5" stroke="#333" stroke-width="0.9"/>
<line x1="385.2" y1="363.14" x2="387.8" y2="363.14" stroke="#333" stroke-width="0.9"/>
<line x1="385.2" y1="369.78" x2="387.8" y2="369.78" stroke="#333" stroke-width="0.9"/>
<line x1="385.2" y1="376.42" x2="387.8" y2="376.42" stroke="#333" stroke-width="0.9"/>
<line x1="385.2" y1="383.06" x2="387.8" y2="383.06" stroke="#333" stroke-width="0.9"/>
<line x1="385.2" y1="389.7" x2="387.8" y2="389.7" stroke="#333" stroke-width="0.9"/>
<line x1="385.2" y1="396.34" x2="387.8" y2="396.34" stroke="#333" stroke-width="0.9"/>
<line x1="385.2" y1="402.98" x2="387.8" y2="402.98" stroke="#333" stroke-width="0.9"/>
<line x1="385.2" y1="409.62" x2="387.8" y2="409.62" stroke="#333" stroke-width="0.9"/>
<line x1="385.2" y1="416.26" x2="387.8" y2="416.26" stroke="#333" stroke-width="0.9"/>
<line x1="385.2" y1="422.9" x2="387.8" y2="422.9" stroke="#333" stroke-width="0.9"/>
<line x1="385.2" y1="429.54" x2="387.8" y2="429.54" stroke="#333" stroke-width="0.9"/>
<line x1="385.2" y1="436.18" x2="387.8" y2="436.18" stroke="#333" stroke-width="0.9"/>
<line x1="382.3" y1="256.9" x2="387.8" y2="256.9" stroke="#333" stroke-width="1.0"/>
<text x="380.6" y="259.6" font-size="8.8" text-anchor="end" fill="#222" >0.025</text>
<line x1="382.3" y1="290.1" x2="387.8" y2="290.1" stroke="#333" stroke-width="1.0"/>
<text x="380.6" y="292.8" font-size="8.8" text-anchor="end" fill="#222" >0.020</text>
<line x1="382.3" y1="323.3" x2="387.8" y2="323.3" stroke="#333" stroke-width="1.0"/>
<text x="380.6" y="326" font-size="8.8" text-anchor="end" fill="#222" >0.015</text>
<line x1="382.3" y1="356.5" x2="387.8" y2="356.5" stroke="#333" stroke-width="1.0"/>
<text x="380.6" y="359.2" font-size="8.8" text-anchor="end" fill="#222" >0.010</text>
<line x1="382.3" y1="389.7" x2="387.8" y2="389.7" stroke="#333" stroke-width="1.0"/>
<text x="380.6" y="392.4" font-size="8.8" text-anchor="end" fill="#222" >0.005</text>
<line x1="382.3" y1="422.9" x2="387.8" y2="422.9" stroke="#333" stroke-width="1.0"/>
<text x="380.6" y="425.6" font-size="8.8" text-anchor="end" fill="#222" >0.00</text>
<line x1="387.3" y1="447.5" x2="675.3" y2="447.5" stroke="#333" stroke-width="1.0"/>
<line x1="425.6" y1="447.5" x2="425.6" y2="453.3" stroke="#333" stroke-width="1.0"/>
<line x1="415.63" y1="447.5" x2="415.63" y2="449.9" stroke="#333" stroke-width="0.9"/>
<line x1="405.66" y1="447.5" x2="405.66" y2="449.9" stroke="#333" stroke-width="0.9"/>
<line x1="395.7" y1="447.5" x2="395.7" y2="449.9" stroke="#333" stroke-width="0.9"/>
<line x1="435.57" y1="447.5" x2="435.57" y2="449.9" stroke="#333" stroke-width="0.9"/>
<line x1="445.54" y1="447.5" x2="445.54" y2="449.9" stroke="#333" stroke-width="0.9"/>
<line x1="455.5" y1="447.5" x2="455.5" y2="449.9" stroke="#333" stroke-width="0.9"/>
<line x1="465.47" y1="447.5" x2="465.47" y2="449.9" stroke="#333" stroke-width="0.9"/>
<line x1="475.44" y1="447.5" x2="475.44" y2="453.3" stroke="#333" stroke-width="1.0"/>
<line x1="485.41" y1="447.5" x2="485.41" y2="449.9" stroke="#333" stroke-width="0.9"/>
<line x1="495.38" y1="447.5" x2="495.38" y2="449.9" stroke="#333" stroke-width="0.9"/>
<line x1="505.34" y1="447.5" x2="505.34" y2="449.9" stroke="#333" stroke-width="0.9"/>
<line x1="515.31" y1="447.5" x2="515.31" y2="449.9" stroke="#333" stroke-width="0.9"/>
<line x1="525.28" y1="447.5" x2="525.28" y2="453.3" stroke="#333" stroke-width="1.0"/>
<line x1="535.25" y1="447.5" x2="535.25" y2="449.9" stroke="#333" stroke-width="0.9"/>
<line x1="545.22" y1="447.5" x2="545.22" y2="449.9" stroke="#333" stroke-width="0.9"/>
<line x1="555.18" y1="447.5" x2="555.18" y2="449.9" stroke="#333" stroke-width="0.9"/>
<line x1="565.15" y1="447.5" x2="565.15" y2="449.9" stroke="#333" stroke-width="0.9"/>
<line x1="575.12" y1="447.5" x2="575.12" y2="453.3" stroke="#333" stroke-width="1.0"/>
<line x1="585.09" y1="447.5" x2="585.09" y2="449.9" stroke="#333" stroke-width="0.9"/>
<line x1="595.06" y1="447.5" x2="595.06" y2="449.9" stroke="#333" stroke-width="0.9"/>
<line x1="605.02" y1="447.5" x2="605.02" y2="449.9" stroke="#333" stroke-width="0.9"/>
<line x1="614.99" y1="447.5" x2="614.99" y2="449.9" stroke="#333" stroke-width="0.9"/>
<line x1="624.96" y1="447.5" x2="624.96" y2="453.3" stroke="#333" stroke-width="1.0"/>
<line x1="634.93" y1="447.5" x2="634.93" y2="449.9" stroke="#333" stroke-width="0.9"/>
<line x1="644.9" y1="447.5" x2="644.9" y2="449.9" stroke="#333" stroke-width="0.9"/>
<line x1="654.86" y1="447.5" x2="654.86" y2="449.9" stroke="#333" stroke-width="0.9"/>
<line x1="664.83" y1="447.5" x2="664.83" y2="449.9" stroke="#333" stroke-width="0.9"/>
<line x1="674.8" y1="447.5" x2="674.8" y2="453.3" stroke="#333" stroke-width="1.0"/>
<line x1="387.8" y1="466.9" x2="387.8" y2="660.6" stroke="#333" stroke-width="1.0"/>
<line x1="381.5" y1="652.1" x2="387" y2="652.1" stroke="#333" stroke-width="1.0"/>
<line x1="384.4" y1="495.2" x2="387" y2="495.2" stroke="#333" stroke-width="0.9"/>
<line x1="384.4" y1="486.4" x2="387" y2="486.4" stroke="#333" stroke-width="0.9"/>
<line x1="384.4" y1="477.6" x2="387" y2="477.6" stroke="#333" stroke-width="0.9"/>
<line x1="384.4" y1="468.8" x2="387" y2="468.8" stroke="#333" stroke-width="0.9"/>
<line x1="384.4" y1="504" x2="387" y2="504" stroke="#333" stroke-width="0.9"/>
<line x1="384.4" y1="512.8" x2="387" y2="512.8" stroke="#333" stroke-width="0.9"/>
<line x1="384.4" y1="521.6" x2="387" y2="521.6" stroke="#333" stroke-width="0.9"/>
<line x1="384.4" y1="530.4" x2="387" y2="530.4" stroke="#333" stroke-width="0.9"/>
<line x1="384.4" y1="539.2" x2="387" y2="539.2" stroke="#333" stroke-width="0.9"/>
<line x1="384.4" y1="548" x2="387" y2="548" stroke="#333" stroke-width="0.9"/>
<line x1="384.4" y1="556.8" x2="387" y2="556.8" stroke="#333" stroke-width="0.9"/>
<line x1="384.4" y1="565.6" x2="387" y2="565.6" stroke="#333" stroke-width="0.9"/>
<line x1="384.4" y1="574.4" x2="387" y2="574.4" stroke="#333" stroke-width="0.9"/>
<line x1="384.4" y1="583.2" x2="387" y2="583.2" stroke="#333" stroke-width="0.9"/>
<line x1="384.4" y1="592" x2="387" y2="592" stroke="#333" stroke-width="0.9"/>
<line x1="384.4" y1="600.8" x2="387" y2="600.8" stroke="#333" stroke-width="0.9"/>
<line x1="384.4" y1="609.6" x2="387" y2="609.6" stroke="#333" stroke-width="0.9"/>
<line x1="384.4" y1="618.4" x2="387" y2="618.4" stroke="#333" stroke-width="0.9"/>
<line x1="384.4" y1="627.2" x2="387" y2="627.2" stroke="#333" stroke-width="0.9"/>
<line x1="384.4" y1="636" x2="387" y2="636" stroke="#333" stroke-width="0.9"/>
<line x1="384.4" y1="644.8" x2="387" y2="644.8" stroke="#333" stroke-width="0.9"/>
<line x1="381.5" y1="495.2" x2="387" y2="495.2" stroke="#333" stroke-width="1.0"/>
<text x="381" y="497.9" font-size="8.8" text-anchor="end" fill="#222" >0.012</text>
<line x1="381.5" y1="539.2" x2="387" y2="539.2" stroke="#333" stroke-width="1.0"/>
<text x="381" y="541.9" font-size="8.8" text-anchor="end" fill="#222" >0.008</text>
<line x1="381.5" y1="583.2" x2="387" y2="583.2" stroke="#333" stroke-width="1.0"/>
<text x="381" y="585.9" font-size="8.8" text-anchor="end" fill="#222" >0.004</text>
<line x1="381.5" y1="627.2" x2="387" y2="627.2" stroke="#333" stroke-width="1.0"/>
<text x="381" y="629.9" font-size="8.8" text-anchor="end" fill="#222" >0.00</text>
<line x1="387.3" y1="654.8" x2="675.3" y2="654.8" stroke="#333" stroke-width="1.0"/>
<line x1="425.6" y1="654.8" x2="425.6" y2="660.6" stroke="#333" stroke-width="1.0"/>
<line x1="415.63" y1="654.8" x2="415.63" y2="657.2" stroke="#333" stroke-width="0.9"/>
<line x1="405.66" y1="654.8" x2="405.66" y2="657.2" stroke="#333" stroke-width="0.9"/>
<line x1="395.7" y1="654.8" x2="395.7" y2="657.2" stroke="#333" stroke-width="0.9"/>
<line x1="435.57" y1="654.8" x2="435.57" y2="657.2" stroke="#333" stroke-width="0.9"/>
<line x1="445.54" y1="654.8" x2="445.54" y2="657.2" stroke="#333" stroke-width="0.9"/>
<line x1="455.5" y1="654.8" x2="455.5" y2="657.2" stroke="#333" stroke-width="0.9"/>
<line x1="465.47" y1="654.8" x2="465.47" y2="657.2" stroke="#333" stroke-width="0.9"/>
<line x1="475.44" y1="654.8" x2="475.44" y2="660.6" stroke="#333" stroke-width="1.0"/>
<line x1="485.41" y1="654.8" x2="485.41" y2="657.2" stroke="#333" stroke-width="0.9"/>
<line x1="495.38" y1="654.8" x2="495.38" y2="657.2" stroke="#333" stroke-width="0.9"/>
<line x1="505.34" y1="654.8" x2="505.34" y2="657.2" stroke="#333" stroke-width="0.9"/>
<line x1="515.31" y1="654.8" x2="515.31" y2="657.2" stroke="#333" stroke-width="0.9"/>
<line x1="525.28" y1="654.8" x2="525.28" y2="660.6" stroke="#333" stroke-width="1.0"/>
<line x1="535.25" y1="654.8" x2="535.25" y2="657.2" stroke="#333" stroke-width="0.9"/>
<line x1="545.22" y1="654.8" x2="545.22" y2="657.2" stroke="#333" stroke-width="0.9"/>
<line x1="555.18" y1="654.8" x2="555.18" y2="657.2" stroke="#333" stroke-width="0.9"/>
<line x1="565.15" y1="654.8" x2="565.15" y2="657.2" stroke="#333" stroke-width="0.9"/>
<line x1="575.12" y1="654.8" x2="575.12" y2="660.6" stroke="#333" stroke-width="1.0"/>
<line x1="585.09" y1="654.8" x2="585.09" y2="657.2" stroke="#333" stroke-width="0.9"/>
<line x1="595.06" y1="654.8" x2="595.06" y2="657.2" stroke="#333" stroke-width="0.9"/>
<line x1="605.02" y1="654.8" x2="605.02" y2="657.2" stroke="#333" stroke-width="0.9"/>
<line x1="614.99" y1="654.8" x2="614.99" y2="657.2" stroke="#333" stroke-width="0.9"/>
<line x1="624.96" y1="654.8" x2="624.96" y2="660.6" stroke="#333" stroke-width="1.0"/>
<line x1="634.93" y1="654.8" x2="634.93" y2="657.2" stroke="#333" stroke-width="0.9"/>
<line x1="644.9" y1="654.8" x2="644.9" y2="657.2" stroke="#333" stroke-width="0.9"/>
<line x1="654.86" y1="654.8" x2="654.86" y2="657.2" stroke="#333" stroke-width="0.9"/>
<line x1="664.83" y1="654.8" x2="664.83" y2="657.2" stroke="#333" stroke-width="0.9"/>
<line x1="674.8" y1="654.8" x2="674.8" y2="660.6" stroke="#333" stroke-width="1.0"/>
<line x1="387.8" y1="679.1" x2="387.8" y2="869.5" stroke="#333" stroke-width="1.0"/>
<line x1="380.8" y1="862.1" x2="386.3" y2="862.1" stroke="#333" stroke-width="1.0"/>
<line x1="383.7" y1="704.7" x2="386.3" y2="704.7" stroke="#333" stroke-width="0.9"/>
<line x1="383.7" y1="697.82" x2="386.3" y2="697.82" stroke="#333" stroke-width="0.9"/>
<line x1="383.7" y1="690.94" x2="386.3" y2="690.94" stroke="#333" stroke-width="0.9"/>
<line x1="383.7" y1="684.06" x2="386.3" y2="684.06" stroke="#333" stroke-width="0.9"/>
<line x1="383.7" y1="711.58" x2="386.3" y2="711.58" stroke="#333" stroke-width="0.9"/>
<line x1="383.7" y1="718.46" x2="386.3" y2="718.46" stroke="#333" stroke-width="0.9"/>
<line x1="383.7" y1="725.34" x2="386.3" y2="725.34" stroke="#333" stroke-width="0.9"/>
<line x1="383.7" y1="732.22" x2="386.3" y2="732.22" stroke="#333" stroke-width="0.9"/>
<line x1="383.7" y1="739.1" x2="386.3" y2="739.1" stroke="#333" stroke-width="0.9"/>
<line x1="383.7" y1="745.98" x2="386.3" y2="745.98" stroke="#333" stroke-width="0.9"/>
<line x1="383.7" y1="752.86" x2="386.3" y2="752.86" stroke="#333" stroke-width="0.9"/>
<line x1="383.7" y1="759.74" x2="386.3" y2="759.74" stroke="#333" stroke-width="0.9"/>
<line x1="383.7" y1="766.62" x2="386.3" y2="766.62" stroke="#333" stroke-width="0.9"/>
<line x1="383.7" y1="773.5" x2="386.3" y2="773.5" stroke="#333" stroke-width="0.9"/>
<line x1="383.7" y1="780.38" x2="386.3" y2="780.38" stroke="#333" stroke-width="0.9"/>
<line x1="383.7" y1="787.26" x2="386.3" y2="787.26" stroke="#333" stroke-width="0.9"/>
<line x1="383.7" y1="794.14" x2="386.3" y2="794.14" stroke="#333" stroke-width="0.9"/>
<line x1="383.7" y1="801.02" x2="386.3" y2="801.02" stroke="#333" stroke-width="0.9"/>
<line x1="383.7" y1="807.9" x2="386.3" y2="807.9" stroke="#333" stroke-width="0.9"/>
<line x1="383.7" y1="814.78" x2="386.3" y2="814.78" stroke="#333" stroke-width="0.9"/>
<line x1="383.7" y1="821.66" x2="386.3" y2="821.66" stroke="#333" stroke-width="0.9"/>
<line x1="383.7" y1="828.54" x2="386.3" y2="828.54" stroke="#333" stroke-width="0.9"/>
<line x1="383.7" y1="835.42" x2="386.3" y2="835.42" stroke="#333" stroke-width="0.9"/>
<line x1="383.7" y1="842.3" x2="386.3" y2="842.3" stroke="#333" stroke-width="0.9"/>
<line x1="383.7" y1="849.18" x2="386.3" y2="849.18" stroke="#333" stroke-width="0.9"/>
<line x1="383.7" y1="856.06" x2="386.3" y2="856.06" stroke="#333" stroke-width="0.9"/>
<line x1="380.8" y1="704.7" x2="386.3" y2="704.7" stroke="#333" stroke-width="1.0"/>
<text x="379" y="707.4" font-size="8.8" text-anchor="end" fill="#222" >0.020</text>
<line x1="380.8" y1="739.1" x2="386.3" y2="739.1" stroke="#333" stroke-width="1.0"/>
<text x="379" y="741.8" font-size="8.8" text-anchor="end" fill="#222" >0.015</text>
<line x1="380.8" y1="773.5" x2="386.3" y2="773.5" stroke="#333" stroke-width="1.0"/>
<text x="379" y="776.2" font-size="8.8" text-anchor="end" fill="#222" >0.010</text>
<line x1="380.8" y1="807.9" x2="386.3" y2="807.9" stroke="#333" stroke-width="1.0"/>
<text x="379" y="810.6" font-size="8.8" text-anchor="end" fill="#222" >0.005</text>
<line x1="380.8" y1="842.3" x2="386.3" y2="842.3" stroke="#333" stroke-width="1.0"/>
<text x="379" y="845" font-size="8.8" text-anchor="end" fill="#222" >0.0</text>
<line x1="387.3" y1="864.2" x2="675.3" y2="864.2" stroke="#333" stroke-width="1.0"/>
<line x1="425.6" y1="864.2" x2="425.6" y2="870" stroke="#333" stroke-width="1.0"/>
<line x1="415.63" y1="864.2" x2="415.63" y2="866.6" stroke="#333" stroke-width="0.9"/>
<line x1="405.66" y1="864.2" x2="405.66" y2="866.6" stroke="#333" stroke-width="0.9"/>
<line x1="395.7" y1="864.2" x2="395.7" y2="866.6" stroke="#333" stroke-width="0.9"/>
<line x1="435.57" y1="864.2" x2="435.57" y2="866.6" stroke="#333" stroke-width="0.9"/>
<line x1="445.54" y1="864.2" x2="445.54" y2="866.6" stroke="#333" stroke-width="0.9"/>
<line x1="455.5" y1="864.2" x2="455.5" y2="866.6" stroke="#333" stroke-width="0.9"/>
<line x1="465.47" y1="864.2" x2="465.47" y2="866.6" stroke="#333" stroke-width="0.9"/>
<line x1="475.44" y1="864.2" x2="475.44" y2="870" stroke="#333" stroke-width="1.0"/>
<line x1="485.41" y1="864.2" x2="485.41" y2="866.6" stroke="#333" stroke-width="0.9"/>
<line x1="495.38" y1="864.2" x2="495.38" y2="866.6" stroke="#333" stroke-width="0.9"/>
<line x1="505.34" y1="864.2" x2="505.34" y2="866.6" stroke="#333" stroke-width="0.9"/>
<line x1="515.31" y1="864.2" x2="515.31" y2="866.6" stroke="#333" stroke-width="0.9"/>
<line x1="525.28" y1="864.2" x2="525.28" y2="870" stroke="#333" stroke-width="1.0"/>
<line x1="535.25" y1="864.2" x2="535.25" y2="866.6" stroke="#333" stroke-width="0.9"/>
<line x1="545.22" y1="864.2" x2="545.22" y2="866.6" stroke="#333" stroke-width="0.9"/>
<line x1="555.18" y1="864.2" x2="555.18" y2="866.6" stroke="#333" stroke-width="0.9"/>
<line x1="565.15" y1="864.2" x2="565.15" y2="866.6" stroke="#333" stroke-width="0.9"/>
<line x1="575.12" y1="864.2" x2="575.12" y2="870" stroke="#333" stroke-width="1.0"/>
<line x1="585.09" y1="864.2" x2="585.09" y2="866.6" stroke="#333" stroke-width="0.9"/>
<line x1="595.06" y1="864.2" x2="595.06" y2="866.6" stroke="#333" stroke-width="0.9"/>
<line x1="605.02" y1="864.2" x2="605.02" y2="866.6" stroke="#333" stroke-width="0.9"/>
<line x1="614.99" y1="864.2" x2="614.99" y2="866.6" stroke="#333" stroke-width="0.9"/>
<line x1="624.96" y1="864.2" x2="624.96" y2="870" stroke="#333" stroke-width="1.0"/>
<line x1="634.93" y1="864.2" x2="634.93" y2="866.6" stroke="#333" stroke-width="0.9"/>
<line x1="644.9" y1="864.2" x2="644.9" y2="866.6" stroke="#333" stroke-width="0.9"/>
<line x1="654.86" y1="864.2" x2="654.86" y2="866.6" stroke="#333" stroke-width="0.9"/>
<line x1="664.83" y1="864.2" x2="664.83" y2="866.6" stroke="#333" stroke-width="0.9"/>
<line x1="674.8" y1="864.2" x2="674.8" y2="870" stroke="#333" stroke-width="1.0"/>
<text x="425.6" y="878.5" font-size="8.8" text-anchor="middle" fill="#222" >1.00</text>
<text x="475.44" y="878.5" font-size="8.8" text-anchor="middle" fill="#222" >2.00</text>
<text x="525.28" y="878.5" font-size="8.8" text-anchor="middle" fill="#222" >3.00</text>
<text x="575.12" y="878.5" font-size="8.8" text-anchor="middle" fill="#222" >4.00</text>
<text x="624.96" y="878.5" font-size="8.8" text-anchor="middle" fill="#222" >5.00</text>
<text x="674.8" y="878.5" font-size="8.8" text-anchor="middle" fill="#222" >6.00</text>
<text x="543.2" y="889.8" font-size="8.8" text-anchor="middle" fill="#222" >minutes</text>
<rect x="354" y="116" width="5.8" height="11" fill="#fff"/>
<rect x="354" y="157" width="5.8" height="11" fill="#fff"/>
<polyline points="36.8,244.1 38.2,244.17 39.6,244.23 41,244.81 42.4,244.58 43.8,245.1 45.25,245.35 46.7,245.45 48.15,245.44 49.6,246 51.07,246.06 52.53,245.75 54,246.1 55.47,245.87 56.93,245.94 58.4,246.3 60.1,245.68 61.8,245.42 63.5,244.6 65.7,242.7 66.8,236.1 70.3,227.3 72.2,234.6 73.7,236.8 75.1,235.4 75.9,215.7 76.3,194.5 76.9,214.9 77.8,227.3 78.4,244.9 80.3,246.3 81.7,248.5 83.15,248.01 84.6,248.1 86.1,246.99 87.6,246.3 89.05,247.5 90.5,248.5 91.95,248.34 93.4,247.5 94.85,248.41 96.3,249.2 97.77,249.17 99.23,249.66 100.7,249.01 102.17,249.67 103.63,249.29 105.1,249.5 106.55,249.45 108,249.66 109.45,250.03 110.9,250.4 112.38,250.89 113.85,250.66 115.33,251.21 116.8,251.4 118.25,251.64 119.7,251.57 121.15,251.84 122.6,251.6 124.05,251.73 125.5,252.2 127,251.64 128.5,251.67 130,251.2 131.46,251.14 132.91,251.06 134.37,251.27 135.83,251.16 137.29,251.05 138.74,251.42 140.2,251.2 141.4,249.7 142.4,242 143.4,249.7 144.6,252.2 146.07,252.52 147.53,252.34 149,252.7 150.45,253.46 151.9,254.1 155.5,249.7 157,249.37 158.5,249 159.9,242.4 161.1,249 162.8,253.4 164.3,253.69 165.8,253.4 167.6,254.17 169.4,254.6 170.86,254.44 172.32,254.96 173.78,254.31 175.24,254.54 176.7,254.6 178.55,253.85 180.4,252.7 182.2,252.04 184,251.9 185.5,247.3 186.9,252.7 189.1,256 190.42,255.91 191.74,255.49 193.06,255.89 194.38,255.88 195.7,255.6 197.15,255.76 198.6,256.09 200.05,255.76 201.5,256 203,255.2 204.5,254.1 206.6,255.1 208.8,254.6 211,257 212.85,257.07 214.7,257 216.9,231.5 218.8,224.2 220.1,200.1 220.8,221.3 221.7,253.4 223.4,254.9 224.9,255.66 226.4,256.3 227.9,258.7 229.37,258.72 230.83,259.06 232.3,259.19 233.77,258.88 235.23,259.07 236.7,259 238.16,258.77 239.61,259.35 241.07,259.41 242.53,259.77 243.99,259.74 245.44,259.44 246.9,259.7 248.23,259.66 249.55,259.92 250.88,259.47 252.21,259.85 253.54,259.67 254.86,259.68 256.19,259.68 257.52,260.27 258.85,259.83 260.17,259.96 261.5,260.2 263.2,259.72 264.9,259.68 266.6,259 267.93,258.98 269.27,259.56 270.6,259.94 271.93,260.49 273.27,260.74 274.6,260.8 276.1,260.78 277.6,260.2 279.05,258.73 280.5,257.6 281.9,250.3 283.4,247.3 284.6,238.9 285.6,243 286.3,251.7 287.5,259.7 289.2,260.8 290.66,260.79 292.12,260.79 293.59,261.24 295.05,261.35 296.51,260.78 297.97,260.85 299.44,260.95 300.9,261.2 302.2,261.09 303.5,261.37 304.8,261.53 306.1,261.38 307.4,261.27 308.7,261.67 310,261.72 311.3,261.96 312.6,262 313.96,262.29 315.33,262.04 316.69,261.86 318.05,261.89 319.41,261.88 320.77,261.36 322.14,261.95 323.5,261.6" fill="none" stroke="#444" stroke-width="0.9" stroke-linejoin="round"/>
<polyline points="37.1,335.1 38.52,335.48 39.93,335.72 41.35,335.83 42.77,335.68 44.18,335.86 45.6,336.1 47.02,335.88 48.43,336.37 49.85,336.02 51.27,336.1 52.68,336.3 54.1,336.6 55.58,335.92 57.05,335.63 58.52,334.98 60,334.9 61.5,330.2 63,326 64.6,324.3 66.3,330.2 67.8,331.3 68.9,319.6 69.9,305.2 71,319.6 72,337 73.33,336.95 74.65,337.38 75.97,337.67 77.3,338.3 78.9,338.4 80.5,338.34 82.1,339.18 83.7,339.1 85.1,339.62 86.5,339.7 87.9,340.4 89.23,340.26 90.55,340.38 91.88,340.45 93.2,340.31 94.53,340.92 95.85,341.07 97.17,340.72 98.5,340.8 99.9,340.65 101.3,340.22 102.7,340.4 104.12,340.26 105.53,340.61 106.95,340.72 108.37,341.32 109.78,340.98 111.2,341.4 112.68,340.92 114.16,341.5 115.64,341.06 117.12,340.65 118.6,340.8 120,341.88 121.4,342.9 123.9,341.4 125.32,340.94 126.73,341.22 128.15,341.46 129.57,341.28 130.98,341.05 132.4,340.8 134.5,339.7 135.5,332.3 136.6,339.7 138.7,344 140.12,343.82 141.53,343.9 142.95,343.75 144.37,344.21 145.78,344.02 147.2,344 148.8,343.16 150.4,341.9 152.5,338.3 154,342.9 156.1,345 158.2,342.5 160.1,343.42 162,344.6 163.4,344.89 164.8,345.84 166.2,346.1 167.8,346.47 169.4,346.37 171,346.33 172.6,346.1 174,345.28 175.4,344.15 176.8,342.9 178,342.6 180.2,345.8 181.5,344.86 182.8,344.35 184.1,343.6 186.3,337.1 187.9,344.7 190,347.4 191.45,347.59 192.9,348" fill="none" stroke="#444" stroke-width="0.9" stroke-linejoin="round"/>
<polyline points="201.6,347.4 202.95,345.69 204.3,344.7 206.5,347.4 208.7,345.8 210.8,348 212.27,347.44 213.73,347.43 215.2,347.4 217,333.8 218.5,327.2 220,313.6 221.1,329.4 222.4,346.9 223.75,347.62 225.1,348.7 226.62,349.03 228.14,349.41 229.66,349.2 231.18,349.75 232.7,349.6 234.17,349.82 235.63,349.65 237.1,349.05 238.57,348.79 240.03,348.64 241.5,348.7 244.1,346.9 245.55,348.32 247,350.2 249.2,345.8 250.9,341.5 252.4,346.9 254.6,350.2 255.97,349.98 257.35,350.29 258.73,350.5 260.1,350.2 261.55,349.36 263,348 264.3,349.08 265.6,350.2 266.92,350.62 268.24,351.03 269.56,350.78 270.88,351.52 272.2,351.7 273.5,351.85 274.8,351.59 276.1,351.41 277.4,351.04 278.7,350.9 280.9,347.4 283.5,341 285.3,345.8 286.8,352.4 288.5,352.39 290.2,353.09 291.9,353.1 293.35,353.04 294.8,353.46 296.25,353.66 297.7,353.29 299.15,353.36 300.6,353.5 301.92,353.89 303.24,353.77 304.56,353.4 305.88,353.42 307.2,353.48 308.52,354.11 309.84,354.08 311.16,353.63 312.48,354.2 313.8,354 315.19,354.24 316.57,353.86 317.96,353.5 319.34,353.52 320.73,353.08 322.11,352.86 323.5,353.1" fill="none" stroke="#444" stroke-width="0.9" stroke-linejoin="round"/>
<polyline points="37.1,434.1 38.43,434.6 39.75,434.49 41.08,434.53 42.4,434.98 43.73,434.74 45.05,435.21 46.38,435.31 47.7,435.2 49.03,434.92 50.35,434.89 51.67,434.86 53,434.75 54.33,434.95 55.65,434.64 56.97,434.7 58.3,434.7 60.2,433.72 62.1,433.3 64.6,427.3 67.2,423.1 68.9,424.8 70.6,428.4 72.7,427.3 73.7,416.8 74.2,396.6 74.8,416.8 75.6,434.7 77.3,436.2 78.72,436.63 80.13,436.32 81.55,436.52 82.97,436.73 84.38,437.09 85.8,436.9 87.12,436.84 88.45,437.22 89.77,436.9 91.1,436.9 92.42,437.45 93.75,437.97 95.08,438.11 96.4,439 97.73,438.95 99.05,438.76 100.38,438.62 101.7,439.23 103.03,438.75 104.35,438.98 105.67,439.17 107,439 108.58,439.29 110.15,439.37 111.72,439.76 113.3,440 114.62,440.1 115.95,440.34 117.28,439.89 118.6,440.3 119.92,440.12 121.25,440.21 122.58,440.64 123.9,440.5 125.32,440.36 126.73,440.25 128.15,440.25 129.57,440.21 130.98,439.71 132.4,439.6 133.8,439.69 135.2,439.6 136.6,439.61 138,439.75 139.4,439.56 140.8,439.6 141.9,430.5 143.4,431.1 144,441.7 145.43,441.89 146.87,442.02 148.3,442.2 149.85,443.04 151.4,443.2 153,442 154.6,440.5 156,440.49 157.4,440.24 158.8,439.6 160.3,434.1 162,435.4 163.1,442.2 164.65,442.02 166.2,442.2 167.9,440.5 170.5,442.6 172.6,444.3 173.95,444.02 175.3,443.99 176.65,443.58 178,443 179.32,442.6 180.64,442.47 181.96,442.6 183.28,442.2 184.6,442.4 186.8,438.6 188.5,444.1 190.1,443.54 191.7,443.04 193.3,443 196.6,435.8 198.1,443.7 199.65,444.05 201.2,444.37 202.75,444.68 204.3,444.6 206.5,442.4 208.2,444.6 209.75,443.89 211.3,443.7 213,446.3 214.33,446.46 215.67,446.42 217,446.3 218.1,432.1 220.7,423.3 222.4,405.1 223.5,422.2 224.6,443 227.3,446.3 228.82,446.39 230.34,447.31 231.86,447.74 233.38,447.53 234.9,448.1 236.37,448.44 237.83,448.02 239.3,448.09 240.77,448.47 242.23,448.35 243.7,448.1 245,446.88 246.3,446.11 247.6,445.2 250.3,448.9 253.5,441.9 255.1,436.5 256.8,445.2 258.27,446.68 259.73,448.01 261.2,449.6 262.67,449 264.13,448.73 265.6,448.5 267.8,445.2 270,448.5 271.43,449.17 272.87,449.13 274.3,450 275.77,450.09 277.23,450.05 278.7,449.78 280.17,450.07 281.63,450.34 283.1,450.3 286.4,443 288.6,440.8 290.3,433.2 291.9,441.9 293.4,450.3 294.84,450.39 296.28,450.13 297.72,450.91 299.16,450.84 300.6,450.7 301.92,451.1 303.24,450.48 304.56,450.64 305.88,450.51 307.2,451.11 308.52,450.77 309.84,450.7 311.16,450.96 312.48,451.37 313.8,451.1 315.19,451.44 316.57,451.12 317.96,451.13 319.34,451.82 320.73,451.65 322.11,451.85 323.5,451.8" fill="none" stroke="#444" stroke-width="0.9" stroke-linejoin="round"/>
<polyline points="38.2,528.3 39.68,528.27 41.16,528.52 42.64,529.28 44.12,529.36 45.6,529.7 46.93,529.46 48.25,530.21 49.58,530.06 50.9,530.28 52.23,529.82 53.55,530.5 54.88,529.98 56.2,530.4 57.6,530.56 59,530.13 60.4,529.93 61.8,529.97 63.2,530.14 64.6,529.7 67.2,525.5 68.55,524.27 69.9,523.4 72,524.9 73.7,527 75.2,518.1 76.3,504.3 77.3,511.8 78.4,529.7 80.5,531.2 81.9,531.15 83.3,531.69 84.7,531.9 86.3,531.35 87.9,531.2 89.33,531.34 90.77,531.81 92.2,532.5 93.5,532.53 94.8,533.02 96.1,533.48 97.4,534 98.86,533.93 100.33,534.35 101.79,534.07 103.25,534.3 104.71,534.13 106.17,534.33 107.64,534.16 109.1,534.6 110.45,534.55 111.79,534.5 113.14,535.19 114.48,535.18 115.83,535.05 117.17,535.4 118.52,535.88 119.86,535.39 121.21,536.07 122.55,535.91 123.9,536.1 125.23,536.02 126.55,536.2 127.88,535.79 129.2,535.81 130.53,535.87 131.85,536.02 133.18,535.46 134.5,535.5 135.9,535.75 137.3,535.66 138.7,535.6 140.1,535.43 141.5,535.5 142.3,528.7 143.6,524.5 144.7,530.8 146.1,536.7 147.58,536.68 149.06,536.56 150.54,536.72 152.02,536.77 153.5,537.2 154.8,536.82 156.1,535.88 157.4,535.5 158.8,536.1 161.4,533.3 163.1,538.2 164.65,538.24 166.2,538.8 168.4,537.6 169.8,537.98 171.2,539.26 172.6,539.7 173.95,539.73 175.3,539.33 176.65,538.78 178,538.7 179.32,538.36 180.64,538.26 181.96,538.25 183.28,537.88 184.6,538 187.2,536.3 188.9,539.1 190.55,538.51 192.2,538 193.8,530.4 195.1,519.4 196.2,507.4 197.3,523.8 198.4,537.4 199.9,539.6 201.37,539.25 202.83,539.62 204.3,539.1 206.5,538 208.7,539.6 210.8,538.7 212.45,540.16 214.1,540.9 215.55,540.59 217,540.2 218.5,528.2 220.3,521.6 221.8,513.9 222.9,519.4 224,539.6 225.65,540.81 227.3,542.4 228.82,542.97 230.34,542.7 231.86,542.95 233.38,542.9 234.9,543.5 236.37,543.41 237.83,543.48 239.3,543.5 240.77,543.27 242.23,543.5 243.7,543.5 245.02,543.12 246.34,543.32 247.66,543.19 248.98,543.42 250.3,543.5 251.8,538 253.5,530.4 255.1,538.7 256.8,542.4 258.27,542.42 259.73,542.77 261.2,543.5 262.5,542.25 263.8,541.3 265.6,539.1 267.8,543.1 269.27,543.16 270.73,543.7 272.2,543.9 273.5,544.2 274.8,544.65 276.1,544.86 277.4,545.18 278.7,545.3 280.17,544.99 281.63,544.02 283.1,543.5 286.4,538.7 287.9,534.3 289.2,539.1 290.3,544.6 291.65,544.58 293,545.2 294.35,544.68 295.7,545.24 297.05,545.29 298.4,545.3 299.77,545 301.15,545.65 302.52,545.75 303.9,545.6 305.27,545.73 306.65,545.84 308.02,545.38 309.4,545.7 310.85,545.78 312.3,545.84 313.75,546.15 315.2,546.2 316.65,546.28 318.1,546.1 319.45,545.96 320.8,546 322.15,545.64 323.5,545.3" fill="none" stroke="#444" stroke-width="0.9" stroke-linejoin="round"/>
<polyline points="38.2,630.4 39.56,630.66 40.91,630.42 42.27,630.39 43.63,630.58 44.99,630.87 46.34,630.79 47.7,631.2 49.12,631.57 50.53,631.48 51.95,631.65 53.37,631.76 54.78,631.92 56.2,631.9 57.56,631.68 58.91,631.09 60.27,631.48 61.63,631.23 62.99,630.83 64.34,630.64 65.7,630.4 67.8,625.5 70.6,621.3 72,625.5 74.2,628.3 75.6,616 76.5,606.5 77.3,617 78.4,634 80.5,634 81.9,634.12 83.3,633.67 84.7,634 86.3,634.93 87.9,635.5 89.23,635.39 90.55,635.33 91.88,635.55 93.2,635.97 94.53,635.65 95.85,636.13 97.17,636.39 98.5,636.1 99.83,636.23 101.15,636.29 102.47,636.5 103.8,636.79 105.12,636.99 106.45,637.01 107.77,637.17 109.1,637.2 110.42,637 111.75,637.18 113.08,637.39 114.4,637.88 115.72,637.68 117.05,638 118.38,637.7 119.7,638.2 121.11,637.87 122.52,638.02 123.93,638.33 125.34,638.35 126.76,638.33 128.17,638.04 129.58,638.21 130.99,638.17 132.4,638.2 133.88,638.17 135.36,637.91 136.84,638.5 138.32,637.97 139.8,638.2 141.3,634.6 142.5,630.4 144,636.1 145.5,640.3 146.97,640.84 148.45,640.98 149.93,640.46 151.4,641 152.83,640.24 154.27,639.78 155.7,638.8 157.25,638.56 158.8,637.6 160.3,633.3 162,638.2 164.1,641.8 165.7,641.56 167.3,641.4 168.9,641.72 170.5,642.4 172,642.18 173.5,642.74 175,642.18 176.5,642.46 178,642.4 179.38,641.85 180.75,641.87 182.12,641.92 183.5,641.3 186.3,637.4 187.9,643.5 189.33,642.49 190.77,642.28 192.2,641.3 194.4,635.8 196,630.8 197.3,638.7 198.8,643.1 200.12,643.11 201.44,643.39 202.76,643.25 204.08,642.9 205.4,643.1 207.05,643.8 208.7,643.9 210,644.17 211.3,644.1 212.6,644.36 213.9,645.01 215.2,645.3 217.4,635.8 219.2,629.9 220.7,616.1 221.8,628.2 223.3,643.9 224.75,644.76 226.2,645.7 227.65,645.73 229.1,645.79 230.55,646.13 232,646.29 233.45,646.88 234.9,646.8 236.37,646.6 237.83,647.36 239.3,647.61 240.77,647.24 242.23,648.04 243.7,647.9 245.02,647.84 246.34,647.77 247.66,647.08 248.98,646.92 250.3,646.8 252.9,645.3 254.3,646.27 255.7,647.4 257.02,647.78 258.34,647.47 259.66,647.29 260.98,647.35 262.3,647.4 263.7,646.18 265.1,645.3 266.45,645.36 267.8,646.1 269.27,646.76 270.73,648.29 272.2,649 273.5,648.96 274.8,649.57 276.1,649.17 277.4,649.3 278.7,649.6 283.1,643.5 285.3,638.7 286.8,633 288.1,641.3 289.7,650.1 291.15,650.17 292.6,650 294.05,650.2 295.5,650.71 296.95,650.73 298.4,650.5 299.77,650.82 301.15,650.77 302.52,651.08 303.9,651.18 305.27,650.97 306.65,651.19 308.02,650.77 309.4,651.2 310.81,651.31 312.22,651.02 313.63,651.18 315.04,651.03 316.45,650.69 317.86,650.44 319.27,651.03 320.68,650.36 322.09,650.55 323.5,650.5" fill="none" stroke="#444" stroke-width="0.9" stroke-linejoin="round"/>
<polyline points="38.8,851.3 40.22,851.03 41.65,850.85 43.08,851.03 44.5,850.7 46.1,850.01 47.7,848.6 49.3,848.07 50.9,847.9 52.3,848.25 53.7,848.22 55.1,848.6 56.6,845.4 57.7,842.9 58.7,847.5 60,851.3 61.38,851.41 62.75,851.34 64.12,851.23 65.5,851.29 66.88,851.39 68.25,851.98 69.62,851.74 71,851.8 72.34,851.59 73.67,852.11 75.01,852.18 76.35,851.76 77.68,851.53 79.02,851.57 80.36,851.49 81.69,851.68 83.03,851.49 84.37,851.6 85.71,851.62 87.04,851.85 88.38,852.09 89.72,851.99 91.05,851.73 92.39,851.73 93.73,851.82 95.06,851.71 96.4,851.8 97.88,851.58 99.36,851.27 100.84,851.33 102.32,851.76 103.8,851.3 105.9,849.2 107.4,852.2 108.73,851.92 110.07,852.2 111.4,852.3 112.73,852.48 114.07,851.98 115.4,852.2 116.82,852.03 118.23,852.01 119.65,852.12 121.07,852.16 122.48,852.54 123.9,852.2 126,851.1 128.1,852.4 129.42,852.66 130.75,852.68 132.07,852.04 133.4,852.04 134.72,852.56 136.05,852.7 137.38,852.38 138.7,852.47 140.03,852.02 141.35,852.32 142.68,852.72 144,852.4 146.1,853.4 147.7,853.35 149.3,852.8 150.9,853.62 152.5,853.9 153.88,854.22 155.27,853.63 156.65,853.49 158.04,853.48 159.42,853.72 160.81,853.81 162.19,853.97 163.58,853.76 164.96,853.67 166.35,853.72 167.73,853.44 169.12,853.48 170.5,853.4 172.6,853.2 173.95,853 175.3,853.71 176.65,853.45 178,853.8 179.54,853.98 181.08,853.63 182.62,853.23 184.16,852.96 185.7,853.1 187.9,852.2 190,853.8 191.38,853.69 192.75,854.05 194.12,854.18 195.5,853.81 196.88,853.85 198.25,854.27 199.62,854.39 201,854.4 203.8,850.5 206,846.1 208.2,853.1 209.8,853.45 211.4,853.76 213,854.4 214.65,853.93 216.3,853.3 217.95,853.48 219.6,854.4 220.95,854.25 222.29,854.37 223.64,854.75 224.98,854.51 226.33,854.69 227.68,854.38 229.02,854.2 230.37,854.21 231.72,854.75 233.06,854.56 234.41,854.25 235.75,854.04 237.1,854.4 238.2,848.3 239.3,776 240,725.7 240.8,676.6 241.5,692.8 242.2,776 243.3,813.3 244.1,843.9 245.9,851.6 247.37,852.33 248.83,853.2 250.3,853.8 251.6,853.74 252.9,853.62 254.2,853.93 255.5,854.12 256.8,853.8 258.27,853.79 259.73,853.85 261.2,854.4 262.67,854.28 264.13,854.34 265.6,854.54 267.07,854.17 268.53,854.63 270,854.4 271.6,853.93 273.2,853.1 274.8,852.2 276.5,854.4 277.88,854.47 279.25,854.3 280.62,854.94 282,854.51 283.38,854.96 284.75,854.57 286.12,854.63 287.5,854.9 288.87,855.1 290.24,854.74 291.61,855.24 292.98,854.9 294.34,854.66 295.71,854.69 297.08,854.84 298.45,855.03 299.82,855.24 301.19,854.63 302.56,854.82 303.92,854.68 305.29,855.26 306.66,854.63 308.03,854.56 309.4,854.9 310.81,854.57 312.22,854.82 313.63,855.2 315.04,855.19 316.45,855.08 317.86,855.28 319.27,855.23 320.68,854.77 322.09,854.66 323.5,854.9" fill="none" stroke="#444" stroke-width="0.9" stroke-linejoin="round"/>
<polyline points="387.8,214.3 389.27,214.63 390.74,214.49 392.21,213.94 393.69,214.42 395.16,214.21 396.63,214.2 398.1,214.3 399.57,213.61 401.03,212.92 402.5,212.6 404.7,208.6 406.9,206 409.1,209.3 411.3,210.8 412.4,199.4 413.5,188.9 414.1,199.4 415.2,214.7 416.8,214.19 418.4,214.27 420,214.3 421.38,214.74 422.75,215.75 424.12,215.66 425.5,216.5 426.92,216.94 428.34,216.46 429.76,216.66 431.18,217.1 432.6,217.19 434.02,216.99 435.44,216.79 436.86,217.2 438.28,217.21 439.7,217.4 441.01,217.76 442.33,217.25 443.64,217.42 444.95,217.86 446.27,217.24 447.58,217.57 448.89,217.92 450.21,217.92 451.52,217.41 452.83,217.45 454.15,217.51 455.46,218.2 456.77,217.74 458.09,218.15 459.4,218 461.05,218.85 462.7,219.1 464.11,218.82 465.53,218.61 466.94,218.98 468.36,218.56 469.77,218.13 471.19,218.32 472.6,218 474.07,218.09 475.53,218.3 477,218.7 478.7,214.7 479.8,212.1 480.9,216.9 482.4,219.6 483.81,219.22 485.23,219.79 486.64,219.92 488.06,219.7 489.47,219.94 490.89,219.24 492.3,219.6 493.95,218.3 495.6,217.4 497.1,215.2 498.4,219.6 499.71,219.67 501.03,220.12 502.34,220.2 503.66,219.86 504.97,219.84 506.29,220.06 507.6,220.2 509.07,220.31 510.53,220.76 512,220.31 513.47,220.9 514.93,220.96 516.4,220.9 518.7,220.3 520.17,219.91 521.63,219.24 523.1,218.4 524.4,221.5 525.95,221.88 527.5,222.1 528.5,201 529.3,183.5 530.6,171 531.5,117.4 532.2,90 532.7,111.2 533.5,154.8 534,174.8 534.7,214.7 536.8,217.8 538.35,218.62 539.9,219.7 542.4,220.3 544.9,222.1 546.8,220.3 548.7,221.9 550.55,221.86 552.4,222.1 553.9,218.4 554.9,209.7 556.4,207.2 557.4,196.6 558.4,204.7 559.6,222.1 561,222 562.4,222.1 563.85,222.81 565.3,223.1 567,222.2 568.8,224 570.25,223.73 571.7,223.87 573.15,224.34 574.6,224.01 576.05,223.92 577.5,224.3 578.97,223.9 580.43,224.24 581.9,224.02 583.37,224.46 584.83,224.34 586.3,224 587.2,215.2 588,167.9 588.9,106.6 589.8,46.1 590.7,68 591.2,106.6 591.9,192.4 593.3,213.4 595,218.7 596.75,220.82 598.5,222.2 599.9,216.9 601.2,204.7 602,199.8 602.9,211.7 603.8,220.4 605.55,222.02 607.3,224 608.62,223.88 609.95,224.09 611.27,224.6 612.6,224.8 614,224.8 615.4,224.44 616.8,224.12 618.2,224.1 619.6,224 620.9,222.74 622.2,221.3 623.9,217.8 625.2,224.8 626.83,225.23 628.47,225.59 630.1,225.7 631.5,225.96 632.9,225.82 634.3,225.41 635.7,225.96 637.1,225.54 638.5,225.75 639.9,225.6 641.3,225.88 642.7,225.47 644.1,225.7 645.47,225.61 646.83,225.71 648.2,225.74 649.57,226.39 650.93,226.26 652.3,226.17 653.67,226.32 655.03,226.87 656.4,226.6 657.71,226.64 659.03,226.47 660.34,226.94 661.66,226.86 662.97,227.15 664.29,226.51 665.6,226.83 666.91,227.13 668.23,227.18 669.54,227.27 670.86,226.64 672.17,226.87 673.49,226.77 674.8,227.1" fill="none" stroke="#444" stroke-width="0.9" stroke-linejoin="round"/>
<polyline points="388.3,429.9 389.95,429.66 391.6,429.9 393.25,430.81 394.9,431 396.5,430.51 398.1,429.9 399.48,429.9 400.85,429.15 402.23,429.2 403.6,428.6 405.8,426 408,423.4 410.2,426 412.4,427.7 413.9,419.4 414.8,411.1 415.7,420.5 416.7,430.4 418.07,430.64 419.45,430.77 420.82,431.44 422.2,431.5 423.52,431.84 424.84,431.2 426.16,431.57 427.48,431.59 428.8,431.5 430.11,431.33 431.42,431.48 432.73,431.35 434.04,431.44 435.35,431.51 436.66,431.82 437.97,431.9 439.28,431.59 440.59,431.49 441.9,431.9 443.27,431.86 444.65,432.21 446.02,431.92 447.4,432.11 448.77,432.11 450.15,432.65 451.52,432.55 452.9,432.6 454.42,432.13 455.94,432.02 457.46,432.1 458.98,432.08 460.5,431.9 461.88,432.33 463.25,432.24 464.62,432.62 466,433.2 467.38,433.27 468.75,432.98 470.12,432.81 471.5,432.75 472.88,433.17 474.25,432.61 475.62,432.73 477,432.6 478.3,431.69 479.6,431 481.3,428.6 482.9,432.6 484.57,432.87 486.23,433.54 487.9,433.6 489.22,433.68 490.54,432.9 491.86,432.47 493.18,432.57 494.5,432.1 496.15,431.22 497.8,430.8 499.3,429.9 501,433.6 502.32,433.36 503.64,434.19 504.96,433.96 506.28,434.4 507.6,434.3 509.07,434.23 510.53,434.59 512,434.27 513.47,434.04 514.93,433.93 516.4,434.3 517.7,434.26 519,434.26 520.3,434.39 521.6,434 524.1,432.4 525.8,434.7 527.2,434.39 528.6,434.79 530,434.7 531.1,416.1 532.4,399.5 533.6,379.6 534.6,358.8 535.3,382.9 535.9,419.4 536.9,429.4 539.1,433.6 540.55,433.6 542,433.8 543.45,433.63 544.9,434 546.57,434.07 548.23,434.48 549.9,434.7 551.57,434.79 553.23,433.94 554.9,434 556.2,424.4 557.9,421.9 559.4,414.5 560.2,422.8 561.5,433.6 563.4,434.34 565.3,435.1 566.66,435.43 568.01,435.65 569.37,435.17 570.72,435.22 572.08,435.94 573.43,436.06 574.79,435.79 576.14,435.56 577.5,436 578.81,436.32 580.12,435.91 581.44,436.31 582.75,436.09 584.06,436.25 585.38,435.74 586.69,436.22 588,436 588.9,411.4 589.8,367.6 590.7,315.1 591.5,255.2 591.9,297.6 592.4,367.6 593.3,411.4 594.7,429 597.7,433.3 599.03,432.82 600.37,432.69 601.7,432.5 602.9,425.4 604.1,421.6 605.2,430.7 607.3,435.1 608.67,435.46 610.03,435.55 611.4,435.16 612.77,435.29 614.13,435.52 615.5,435.71 616.87,435.71 618.23,435.61 619.6,436 623.1,431.6 625.2,428.1 626.6,433.3 628,436.8 629.35,436.61 630.7,436.97 632.05,437.1 633.4,436.45 634.75,436.85 636.1,437 637.45,436.45 638.8,436.8 640.15,437.1 641.51,436.6 642.86,437.01 644.22,437.02 645.57,437.13 646.92,436.93 648.28,437.06 649.63,437.23 650.98,437.16 652.34,437.38 653.69,437.27 655.05,437.31 656.4,437.4 657.71,437.04 659.03,437.49 660.34,437.39 661.66,437.2 662.97,437.6 664.29,437.61 665.6,437.37 666.91,437.16 668.23,437.38 669.54,437.1 670.86,437.12 672.17,437.35 673.49,437.09 674.8,437.4" fill="none" stroke="#444" stroke-width="0.9" stroke-linejoin="round"/>
<polyline points="388.3,640.4 389.75,640.36 391.2,640.41 392.65,640.05 394.1,640.5 395.55,640.08 397,640.4 400.3,636 403.6,632 405.8,633.8 408,635.5 409.1,629.4 410,610.8 410.8,627.2 411.7,639.9 413.03,640.38 414.37,640.71 415.7,640.8 417.1,640.97 418.5,640.78 419.9,641.27 421.3,641.34 422.7,641.93 424.1,641.47 425.5,641.9 426.92,642.24 428.34,642.42 429.76,642.29 431.18,642.42 432.6,642.02 434.02,642.69 435.44,642.38 436.86,642.81 438.28,642.85 439.7,642.6 441.05,642.38 442.41,642.88 443.76,643.02 445.12,642.39 446.47,642.64 447.82,642.98 449.18,642.56 450.53,643.15 451.88,642.71 453.24,643.15 454.59,642.67 455.95,642.97 457.3,643 458.9,643.62 460.5,643.6 462.04,643.26 463.58,643.18 465.12,643.24 466.66,642.98 468.2,643 469.58,642.58 470.97,642.63 472.35,642.54 473.73,643.07 475.12,642.8 476.5,642.6 478.1,638.2 478.7,635.5 479.6,640.8 481.3,644.7 482.68,644.95 484.05,644.35 485.43,644.77 486.8,644.21 488.18,644.47 489.55,644.5 490.93,644.24 492.3,644.3 493.95,644.23 495.6,643.6 497.1,643 498.9,645.8 500.35,645.96 501.8,646.09 503.25,646.44 504.7,645.97 506.15,646.76 507.6,646.5 509.08,646.5 510.56,646.22 512.04,646.43 513.52,645.92 515,646 516.32,646.11 517.64,645.54 518.96,645.11 520.28,645.16 521.6,644.7 523.08,644.98 524.55,645.1 526.02,645.86 527.5,646 529.1,634.4 530.8,609.5 531.6,592.9 532.4,561 533.6,589.6 534.1,626.1 535.3,640.2 538.3,644.7 539.62,644.56 540.94,645.34 542.26,645.11 543.58,645.61 544.9,645.7 546.3,646.73 547.7,647.1 549.1,647.7 550.73,647.56 552.37,647.02 554,646.9 555.7,639.4 557.4,636.1 559,629.4 560.2,636.1 561.5,647.7 562.96,647.5 564.42,647.71 565.88,647.97 567.34,648.51 568.8,648.6 570.25,648.63 571.7,648.78 573.15,649.15 574.6,648.65 576.05,648.81 577.5,649.1 578.81,649.27 580.12,648.84 581.44,648.87 582.75,649.19 584.06,649.05 585.38,649.29 586.69,649.24 588,649.5 589.4,612.7 590.1,542.6 590.8,512.8 591.5,467.3 592.2,516.3 592.9,612.7 594.2,633.7 596.8,646 598.1,645.61 599.4,645.17 600.7,644.43 602,644.2 603.4,633.7 604.7,628.1 605.9,640.7 608.2,647.7 609.62,648.02 611.05,648.13 612.48,648.1 613.9,648.93 615.33,648.63 616.75,648.78 618.18,648.97 619.6,649.5 621.03,649.01 622.47,648.58 623.9,647.7 625.25,647.06 626.6,646 628.3,649.8 629.67,649.85 631.03,649.87 632.4,649.8 633.77,650.4 635.13,650.46 636.5,650.42 637.87,650.77 639.23,650.74 640.6,650.9 641.95,651.32 643.29,651.26 644.64,650.99 645.98,651.58 647.33,651.01 648.68,651.48 650.02,651.47 651.37,651.44 652.72,651.4 654.06,652.04 655.41,651.54 656.75,652.05 658.1,652.1 659.49,652.48 660.88,651.91 662.27,652 663.67,652.35 665.06,652.31 666.45,652.46 667.84,652.63 669.23,652.19 670.62,652.33 672.02,652.36 673.41,652.22 674.8,652.6" fill="none" stroke="#444" stroke-width="0.9" stroke-linejoin="round"/>
<polyline points="390.5,850.8 391.97,850.8 393.43,850.42 394.9,849.9 396.3,848.66 397.7,847.1 400.8,842.7 402.2,843.72 403.6,845.5 405.8,846.4 407.3,837.2 408.4,828.9 409.3,839.4 410.2,850.8 411.57,851.24 412.95,851.34 414.32,851.3 415.7,851.5 417.01,851.79 418.32,851.68 419.63,851.62 420.94,851.64 422.25,851.85 423.56,851.81 424.87,852.14 426.18,852.57 427.49,852.64 428.8,852.6 430.17,852.89 431.54,852.81 432.91,852.5 434.27,852.74 435.64,852.68 437.01,852.97 438.38,852.79 439.75,852.62 441.12,852.93 442.49,853.2 443.86,852.66 445.23,853.19 446.59,852.56 447.96,852.77 449.33,852.77 450.7,853 452.07,853.16 453.44,853.29 454.81,853.11 456.18,852.77 457.54,853.16 458.91,852.72 460.28,852.63 461.65,853.11 463.02,852.87 464.39,852.9 465.76,852.85 467.12,853.06 468.49,852.65 469.86,852.91 471.23,852.78 472.6,852.6 475.2,852.1 477,847.1 478.3,852.6 479.8,853.37 481.3,853.6 482.62,853.69 483.94,854.05 485.26,854.07 486.58,854.01 487.9,854.3 489.37,853.35 490.83,852.93 492.3,852.1 494.9,850.8 496.7,853.6 498.13,853.65 499.57,854.65 501,854.7 502.33,854.4 503.66,854.28 504.99,854.31 506.32,854.91 507.65,854.43 508.98,854.25 510.31,854.13 511.64,854.11 512.97,854.58 514.3,854.4 515.75,854.23 517.2,854 518.65,853.75 520.1,853.3 521.9,852.1 523,854.4 524.8,855.6 526.5,854.2 527.3,846.3 528,805.6 528.8,796.3 530,792.8 530.6,759.1 531.2,737 531.7,757.9 532.3,811.4 533.1,841.6 534.7,852.1 536.15,852.37 537.6,853.3 539.13,853.74 540.67,853.93 542.2,854.4 543.77,854.84 545.33,855.04 546.9,855 548.43,855.4 549.97,854.87 551.5,855.3 552.7,852.1 554.7,847.5 556.1,840.8 557.6,834.2 558.5,840.8 559.9,854.1 561.6,855.13 563.3,855.6 564.66,856.1 566.01,856.31 567.37,855.86 568.73,856.12 570.09,856.23 571.44,856.36 572.8,856.9 574.13,857.16 575.46,857.14 576.79,857 578.12,857.15 579.45,857 580.78,856.74 582.11,856.6 583.44,856.59 584.77,857.1 586.1,856.9 587.6,848.4 588.5,783.9 589.3,708 589.9,675.7 590.6,704.2 591.4,774.4 592.1,837 594,850.3 595.47,851.64 596.93,853.3 598.4,855 601.2,848.4 602.8,837 604.1,848.4 605.4,855 606.84,855.32 608.28,855.4 609.72,855.96 611.16,856.35 612.6,856.9 614.12,856.68 615.64,856.04 617.16,855.62 618.68,855.73 620.2,855 621.65,853.4 623.1,851.8 625.3,849.4 626.9,856.9 628.32,857.27 629.73,857.19 631.15,856.84 632.57,857.23 633.98,857.35 635.4,857.5 636.73,857.75 638.06,857.46 639.39,857.78 640.72,857.69 642.05,857.48 643.38,858.02 644.71,857.47 646.04,858.06 647.37,857.61 648.7,857.9 650,857.52 651.31,857.67 652.62,858.1 653.92,858.26 655.23,857.52 656.53,857.89 657.84,857.89 659.14,858.13 660.45,857.66 661.75,857.9 663.05,857.78 664.36,858.15 665.66,857.72 666.97,858.24 668.27,857.74 669.58,857.68 670.88,858.05 672.19,857.9 673.5,857.6 674.8,857.9" fill="none" stroke="#444" stroke-width="0.9" stroke-linejoin="round"/>
<text x="275.8" y="204.8" font-size="18" text-anchor="start" fill="#111" font-style="italic" textLength="50" lengthAdjust="spacingAndGlyphs" stroke="#111" stroke-width="0.15">tt4-11</text>
<text x="285.3" y="303.6" font-size="18" text-anchor="start" fill="#111" font-style="italic" textLength="37.7" lengthAdjust="spacingAndGlyphs" stroke="#111" stroke-width="0.15">tt5-2</text>
<text x="286.4" y="400.8" font-size="18" text-anchor="start" fill="#111" font-style="italic" textLength="37.6" lengthAdjust="spacingAndGlyphs" stroke="#111" stroke-width="0.15">tt5-3</text>
<text x="285.3" y="499.3" font-size="18" text-anchor="start" fill="#111" font-style="italic" textLength="38" lengthAdjust="spacingAndGlyphs" stroke="#111" stroke-width="0.15">tt6-2</text>
<text x="279.8" y="597.5" font-size="18" text-anchor="start" fill="#111" font-style="italic" textLength="43.5" lengthAdjust="spacingAndGlyphs" stroke="#111" stroke-width="0.15">fls1-2</text>
<text x="285.3" y="695" font-size="18" text-anchor="start" fill="#111" font-style="italic" textLength="38" lengthAdjust="spacingAndGlyphs" stroke="#111" stroke-width="0.15">tt7-5</text>
<text x="615.8" y="71.2" font-size="18" text-anchor="start" fill="#111" font-style="italic" textLength="60.5" lengthAdjust="spacingAndGlyphs" stroke="#111" stroke-width="0.15">tt11-11</text>
<text x="617.5" y="295.5" font-size="18" text-anchor="start" fill="#111" font-style="italic" textLength="46.7" lengthAdjust="spacingAndGlyphs" stroke="#111" stroke-width="0.15">ban-2</text>
<text x="639.7" y="491.8" font-size="17.5" text-anchor="start" fill="#111" textLength="23.3" lengthAdjust="spacingAndGlyphs" stroke="#111" stroke-width="0.15">Ws</text>
<text x="636.6" y="696.6" font-size="17.5" text-anchor="start" fill="#111" textLength="27" lengthAdjust="spacingAndGlyphs" stroke="#111" stroke-width="0.15">Col</text>
<text x="193.2" y="176" font-size="14.5" text-anchor="middle" fill="#111" >Q</text>
<text x="240.7" y="176" font-size="14.5" text-anchor="middle" fill="#111" >K</text>
<line x1="192.8" y1="180.8" x2="192.8" y2="193.1" stroke="#111" stroke-width="1.5"/>
<path d="M189.5,189.1 L192.8,190.8 L196.1,189.1 L192.8,202 Z" fill="#111"/>
<line x1="240.5" y1="180.5" x2="240.5" y2="193.1" stroke="#111" stroke-width="1.5"/>
<path d="M237.2,189.1 L240.5,190.8 L243.8,189.1 L240.5,202 Z" fill="#111"/>
<text x="532.5" y="13.2" font-size="13.5" text-anchor="middle" fill="#111" >Q</text>
<text x="590" y="13.2" font-size="13.5" text-anchor="middle" fill="#111" >K</text>
<line x1="532.3" y1="18.2" x2="532.3" y2="31.1" stroke="#111" stroke-width="1.5"/>
<path d="M529,27.1 L532.3,28.8 L535.6,27.1 L532.3,40 Z" fill="#111"/>
<line x1="590" y1="18.2" x2="590" y2="31.1" stroke="#111" stroke-width="1.5"/>
<path d="M586.7,27.1 L590,28.8 L593.3,27.1 L590,40 Z" fill="#111"/>
<text x="6.2" y="923" font-size="24" text-anchor="start" fill="#111" textLength="18.6" lengthAdjust="spacingAndGlyphs">B.</text>
<line x1="53.3" y1="1133.7" x2="405.3" y2="1133.7" stroke="#a6a6a6" stroke-width="1.0"/>
<line x1="53.3" y1="1085" x2="405.3" y2="1085" stroke="#a6a6a6" stroke-width="1.0"/>
<line x1="53.3" y1="1036.3" x2="405.3" y2="1036.3" stroke="#a6a6a6" stroke-width="1.0"/>
<line x1="53.3" y1="987.6" x2="405.3" y2="987.6" stroke="#a6a6a6" stroke-width="1.0"/>
<line x1="53.3" y1="938.9" x2="405.3" y2="938.9" stroke="#a6a6a6" stroke-width="1.0"/>
<line x1="405.3" y1="938.9" x2="405.3" y2="1182.4" stroke="#a6a6a6" stroke-width="1.0"/>
<line x1="53.3" y1="938.9" x2="53.3" y2="1182.4" stroke="#a6a6a6" stroke-width="1.0"/>
<line x1="53.3" y1="1182.4" x2="405.3" y2="1182.4" stroke="#a6a6a6" stroke-width="1.0"/>
<line x1="49.8" y1="1182.4" x2="53.3" y2="1182.4" stroke="#a6a6a6" stroke-width="1.0"/>
<text x="44.4" y="1185.7" font-size="9.2" text-anchor="end" fill="#333" textLength="23.4" lengthAdjust="spacingAndGlyphs">0.000</text>
<line x1="49.8" y1="1133.7" x2="53.3" y2="1133.7" stroke="#a6a6a6" stroke-width="1.0"/>
<text x="44.4" y="1137" font-size="9.2" text-anchor="end" fill="#333" textLength="23.4" lengthAdjust="spacingAndGlyphs">0.010</text>
<line x1="49.8" y1="1085" x2="53.3" y2="1085" stroke="#a6a6a6" stroke-width="1.0"/>
<text x="44.4" y="1088.3" font-size="9.2" text-anchor="end" fill="#333" textLength="23.4" lengthAdjust="spacingAndGlyphs">0.020</text>
<line x1="49.8" y1="1036.3" x2="53.3" y2="1036.3" stroke="#a6a6a6" stroke-width="1.0"/>
<text x="44.4" y="1039.6" font-size="9.2" text-anchor="end" fill="#333" textLength="23.4" lengthAdjust="spacingAndGlyphs">0.030</text>
<line x1="49.8" y1="987.6" x2="53.3" y2="987.6" stroke="#a6a6a6" stroke-width="1.0"/>
<text x="44.4" y="990.9" font-size="9.2" text-anchor="end" fill="#333" textLength="23.4" lengthAdjust="spacingAndGlyphs">0.040</text>
<line x1="49.8" y1="938.9" x2="53.3" y2="938.9" stroke="#a6a6a6" stroke-width="1.0"/>
<text x="44.4" y="942.2" font-size="9.2" text-anchor="end" fill="#333" textLength="23.4" lengthAdjust="spacingAndGlyphs">0.050</text>
<text x="0" y="0" font-size="9" fill="#333" text-anchor="middle" transform="translate(19.8,1058.4) rotate(-90)">AU</text>
<rect x="60.8" y="1081.59" width="10.1" height="100.81" fill="#555555"/>
<rect x="70.9" y="1119.28" width="10.1" height="63.12" fill="#a9a9a9"/>
<line x1="65.85" y1="1059.7" x2="65.85" y2="1103" stroke="#262626" stroke-width="1.2"/>
<line x1="63.25" y1="1059.7" x2="68.45" y2="1059.7" stroke="#262626" stroke-width="1.2"/>
<line x1="63.25" y1="1103" x2="68.45" y2="1103" stroke="#262626" stroke-width="1.2"/>
<line x1="75.95" y1="1105.3" x2="75.95" y2="1133.4" stroke="#262626" stroke-width="1.2"/>
<line x1="73.35" y1="1105.3" x2="78.55" y2="1105.3" stroke="#262626" stroke-width="1.2"/>
<line x1="73.35" y1="1133.4" x2="78.55" y2="1133.4" stroke="#262626" stroke-width="1.2"/>
<text x="70" y="1198.2" font-size="9.2" text-anchor="middle" fill="#333" textLength="13.6" lengthAdjust="spacingAndGlyphs">Col</text>
<rect x="96" y="1095.71" width="10.1" height="86.69" fill="#555555"/>
<rect x="106.1" y="1137.69" width="10.1" height="44.71" fill="#a9a9a9"/>
<line x1="101.05" y1="1075.5" x2="101.05" y2="1115.4" stroke="#262626" stroke-width="1.2"/>
<line x1="98.45" y1="1075.5" x2="103.65" y2="1075.5" stroke="#262626" stroke-width="1.2"/>
<line x1="98.45" y1="1115.4" x2="103.65" y2="1115.4" stroke="#262626" stroke-width="1.2"/>
<line x1="111.15" y1="1130.5" x2="111.15" y2="1144.5" stroke="#262626" stroke-width="1.2"/>
<line x1="108.55" y1="1130.5" x2="113.75" y2="1130.5" stroke="#262626" stroke-width="1.2"/>
<line x1="108.55" y1="1144.5" x2="113.75" y2="1144.5" stroke="#262626" stroke-width="1.2"/>
<text x="105" y="1198.2" font-size="9.2" text-anchor="middle" fill="#333" textLength="13.6" lengthAdjust="spacingAndGlyphs">Ws</text>
<text x="140.1" y="1198.2" font-size="9.2" text-anchor="middle" fill="#333" font-style="italic" textLength="24.6" lengthAdjust="spacingAndGlyphs">tt4-11</text>
<text x="177" y="1198.2" font-size="9.2" text-anchor="middle" fill="#333" font-style="italic" textLength="19.3" lengthAdjust="spacingAndGlyphs">tt5-2</text>
<text x="213.3" y="1198.2" font-size="9.2" text-anchor="middle" fill="#333" font-style="italic" textLength="20.2" lengthAdjust="spacingAndGlyphs">tt5-3</text>
<text x="246.4" y="1198.2" font-size="9.2" text-anchor="middle" fill="#333" font-style="italic" textLength="20.1" lengthAdjust="spacingAndGlyphs">tt6-2</text>
<rect x="272" y="971.04" width="10.1" height="211.36" fill="#555555"/>
<line x1="277.05" y1="942.3" x2="277.05" y2="999.3" stroke="#262626" stroke-width="1.2"/>
<line x1="274.45" y1="942.3" x2="279.65" y2="942.3" stroke="#262626" stroke-width="1.2"/>
<line x1="274.45" y1="999.3" x2="279.65" y2="999.3" stroke="#262626" stroke-width="1.2"/>
<text x="281.2" y="1198.2" font-size="9.2" text-anchor="middle" fill="#333" font-style="italic" textLength="18.8" lengthAdjust="spacingAndGlyphs">tt7-5</text>
<text x="315.1" y="1198.2" font-size="9.2" text-anchor="middle" fill="#333" font-style="italic" textLength="23.5" lengthAdjust="spacingAndGlyphs">fls1-2</text>
<rect x="342.4" y="1092.01" width="10.1" height="90.39" fill="#555555"/>
<rect x="352.5" y="1126.1" width="10.1" height="56.3" fill="#a9a9a9"/>
<line x1="347.45" y1="1067.7" x2="347.45" y2="1116.7" stroke="#262626" stroke-width="1.2"/>
<line x1="344.85" y1="1067.7" x2="350.05" y2="1067.7" stroke="#262626" stroke-width="1.2"/>
<line x1="344.85" y1="1116.7" x2="350.05" y2="1116.7" stroke="#262626" stroke-width="1.2"/>
<line x1="357.55" y1="1107.6" x2="357.55" y2="1144.4" stroke="#262626" stroke-width="1.2"/>
<line x1="354.95" y1="1107.6" x2="360.15" y2="1107.6" stroke="#262626" stroke-width="1.2"/>
<line x1="354.95" y1="1144.4" x2="360.15" y2="1144.4" stroke="#262626" stroke-width="1.2"/>
<text x="356.1" y="1198.2" font-size="9.2" text-anchor="middle" fill="#333" font-style="italic" textLength="29.3" lengthAdjust="spacingAndGlyphs">tt11-11</text>
<rect x="377.6" y="1084.03" width="10.1" height="98.37" fill="#555555"/>
<rect x="387.7" y="1132.24" width="10.1" height="50.16" fill="#a9a9a9"/>
<line x1="382.65" y1="1044.6" x2="382.65" y2="1123.5" stroke="#262626" stroke-width="1.2"/>
<line x1="380.05" y1="1044.6" x2="385.25" y2="1044.6" stroke="#262626" stroke-width="1.2"/>
<line x1="380.05" y1="1123.5" x2="385.25" y2="1123.5" stroke="#262626" stroke-width="1.2"/>
<line x1="392.75" y1="1108.3" x2="392.75" y2="1155" stroke="#262626" stroke-width="1.2"/>
<line x1="390.15" y1="1108.3" x2="395.35" y2="1108.3" stroke="#262626" stroke-width="1.2"/>
<line x1="390.15" y1="1155" x2="395.35" y2="1155" stroke="#262626" stroke-width="1.2"/>
<text x="390.3" y="1198.2" font-size="9.2" text-anchor="middle" fill="#333" font-style="italic" textLength="24.1" lengthAdjust="spacingAndGlyphs">ban-2</text>
<rect x="332" y="944.2" width="65.6" height="37.5" fill="#fff" stroke="#c8c8c8" stroke-width="0.8"/>
<rect x="337.7" y="951.2" width="4.8" height="4.8" fill="#555555"/>
<rect x="337.7" y="969.4" width="4.8" height="4.8" fill="#a9a9a9"/>
<text x="344.4" y="956.9" font-size="9" text-anchor="start" fill="#333" textLength="49.5" lengthAdjust="spacingAndGlyphs">Kaempferol</text>
<text x="344.4" y="975.1" font-size="9" text-anchor="start" fill="#333" textLength="41.5" lengthAdjust="spacingAndGlyphs">Quercetin</text>
</svg>
</body></html>
